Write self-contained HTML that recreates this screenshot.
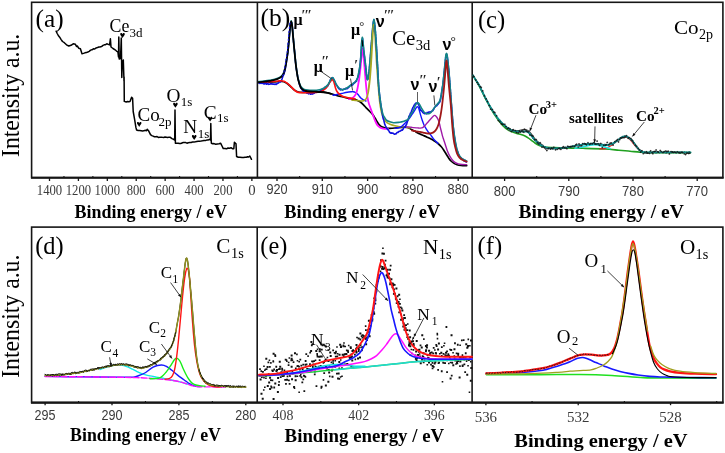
<!DOCTYPE html><html><head><meta charset="utf-8"><style>html,body{margin:0;padding:0;background:#fff}svg{display:block;will-change:transform}</style></head><body><svg width="725" height="453" viewBox="0 0 725 453"><rect x="31.6" y="2.3" width="691.3" height="175.29999999999998" fill="none" stroke="#161616" stroke-width="1.6"/>
<line x1="257.4" y1="2.3" x2="257.4" y2="177.6" stroke="#161616" stroke-width="1.6"/>
<line x1="472.2" y1="2.3" x2="472.2" y2="177.6" stroke="#161616" stroke-width="1.6"/>
<rect x="31.6" y="227.1" width="691.3" height="175.50000000000003" fill="none" stroke="#161616" stroke-width="1.6"/>
<line x1="257.2" y1="227.1" x2="257.2" y2="402.6" stroke="#161616" stroke-width="1.6"/>
<line x1="472.1" y1="227.1" x2="472.1" y2="402.6" stroke="#161616" stroke-width="1.6"/>
<line x1="31" y1="177.79999999999998" x2="723.6" y2="177.79999999999998" stroke="#161616" stroke-width="1.9"/>
<line x1="31" y1="402.70000000000005" x2="723.6" y2="402.70000000000005" stroke="#161616" stroke-width="2.2"/>
<line x1="49.50" y1="177.6" x2="49.50" y2="181.0" stroke="#161616" stroke-width="1.3"/>
<line x1="78.41" y1="177.6" x2="78.41" y2="181.0" stroke="#161616" stroke-width="1.3"/>
<line x1="107.32" y1="177.6" x2="107.32" y2="181.0" stroke="#161616" stroke-width="1.3"/>
<line x1="136.23" y1="177.6" x2="136.23" y2="181.0" stroke="#161616" stroke-width="1.3"/>
<line x1="165.14" y1="177.6" x2="165.14" y2="181.0" stroke="#161616" stroke-width="1.3"/>
<line x1="194.05" y1="177.6" x2="194.05" y2="181.0" stroke="#161616" stroke-width="1.3"/>
<line x1="222.96" y1="177.6" x2="222.96" y2="181.0" stroke="#161616" stroke-width="1.3"/>
<line x1="251.87" y1="177.6" x2="251.87" y2="181.0" stroke="#161616" stroke-width="1.3"/>
<line x1="63.95" y1="177.6" x2="63.95" y2="176.0" stroke="#161616" stroke-width="1.1"/>
<line x1="92.87" y1="177.6" x2="92.87" y2="176.0" stroke="#161616" stroke-width="1.1"/>
<line x1="121.78" y1="177.6" x2="121.78" y2="176.0" stroke="#161616" stroke-width="1.1"/>
<line x1="150.69" y1="177.6" x2="150.69" y2="176.0" stroke="#161616" stroke-width="1.1"/>
<line x1="179.59" y1="177.6" x2="179.59" y2="176.0" stroke="#161616" stroke-width="1.1"/>
<line x1="208.51" y1="177.6" x2="208.51" y2="176.0" stroke="#161616" stroke-width="1.1"/>
<line x1="237.42" y1="177.6" x2="237.42" y2="176.0" stroke="#161616" stroke-width="1.1"/>
<text x="49.5" y="194.9" font-family="Liberation Serif" font-size="14.8" fill="#3a3a3a" text-anchor="middle" textLength="25.4" lengthAdjust="spacingAndGlyphs">1400</text>
<text x="78.4" y="194.9" font-family="Liberation Serif" font-size="14.8" fill="#3a3a3a" text-anchor="middle" textLength="25.4" lengthAdjust="spacingAndGlyphs">1200</text>
<text x="107.3" y="194.9" font-family="Liberation Serif" font-size="14.8" fill="#3a3a3a" text-anchor="middle" textLength="25.4" lengthAdjust="spacingAndGlyphs">1000</text>
<text x="136.2" y="194.9" font-family="Liberation Serif" font-size="14.8" fill="#3a3a3a" text-anchor="middle" textLength="19.0" lengthAdjust="spacingAndGlyphs">800</text>
<text x="165.1" y="194.9" font-family="Liberation Serif" font-size="14.8" fill="#3a3a3a" text-anchor="middle" textLength="19.0" lengthAdjust="spacingAndGlyphs">600</text>
<text x="194.1" y="194.9" font-family="Liberation Serif" font-size="14.8" fill="#3a3a3a" text-anchor="middle" textLength="19.0" lengthAdjust="spacingAndGlyphs">400</text>
<text x="223.0" y="194.9" font-family="Liberation Serif" font-size="14.8" fill="#3a3a3a" text-anchor="middle" textLength="19.0" lengthAdjust="spacingAndGlyphs">200</text>
<text x="251.9" y="194.9" font-family="Liberation Serif" font-size="14.8" fill="#3a3a3a" text-anchor="middle" >0</text>
<line x1="277.00" y1="177.6" x2="277.00" y2="181.0" stroke="#161616" stroke-width="1.3"/>
<line x1="322.30" y1="177.6" x2="322.30" y2="181.0" stroke="#161616" stroke-width="1.3"/>
<line x1="367.60" y1="177.6" x2="367.60" y2="181.0" stroke="#161616" stroke-width="1.3"/>
<line x1="412.90" y1="177.6" x2="412.90" y2="181.0" stroke="#161616" stroke-width="1.3"/>
<line x1="458.20" y1="177.6" x2="458.20" y2="181.0" stroke="#161616" stroke-width="1.3"/>
<line x1="299.65" y1="177.6" x2="299.65" y2="176.0" stroke="#161616" stroke-width="1.1"/>
<line x1="344.95" y1="177.6" x2="344.95" y2="176.0" stroke="#161616" stroke-width="1.1"/>
<line x1="390.25" y1="177.6" x2="390.25" y2="176.0" stroke="#161616" stroke-width="1.1"/>
<line x1="435.55" y1="177.6" x2="435.55" y2="176.0" stroke="#161616" stroke-width="1.1"/>
<text x="277.0" y="194.1" font-family="Liberation Sans" font-size="15.0" fill="#3a3a3a" text-anchor="middle" textLength="21.2" lengthAdjust="spacingAndGlyphs">920</text>
<text x="322.3" y="194.1" font-family="Liberation Sans" font-size="15.0" fill="#3a3a3a" text-anchor="middle" textLength="21.2" lengthAdjust="spacingAndGlyphs">910</text>
<text x="367.6" y="194.1" font-family="Liberation Sans" font-size="15.0" fill="#3a3a3a" text-anchor="middle" textLength="21.2" lengthAdjust="spacingAndGlyphs">900</text>
<text x="412.9" y="194.1" font-family="Liberation Sans" font-size="15.0" fill="#3a3a3a" text-anchor="middle" textLength="21.2" lengthAdjust="spacingAndGlyphs">890</text>
<text x="458.2" y="194.1" font-family="Liberation Sans" font-size="15.0" fill="#3a3a3a" text-anchor="middle" textLength="21.2" lengthAdjust="spacingAndGlyphs">880</text>
<line x1="504.60" y1="177.6" x2="504.60" y2="181.0" stroke="#161616" stroke-width="1.3"/>
<line x1="568.80" y1="177.6" x2="568.80" y2="181.0" stroke="#161616" stroke-width="1.3"/>
<line x1="633.00" y1="177.6" x2="633.00" y2="181.0" stroke="#161616" stroke-width="1.3"/>
<line x1="697.20" y1="177.6" x2="697.20" y2="181.0" stroke="#161616" stroke-width="1.3"/>
<line x1="536.70" y1="177.6" x2="536.70" y2="176.0" stroke="#161616" stroke-width="1.1"/>
<line x1="600.90" y1="177.6" x2="600.90" y2="176.0" stroke="#161616" stroke-width="1.1"/>
<line x1="665.10" y1="177.6" x2="665.10" y2="176.0" stroke="#161616" stroke-width="1.1"/>
<text x="504.6" y="196.2" font-family="Liberation Sans" font-size="15.0" fill="#3a3a3a" text-anchor="middle" textLength="21.8" lengthAdjust="spacingAndGlyphs">800</text>
<text x="568.8" y="196.2" font-family="Liberation Sans" font-size="15.0" fill="#3a3a3a" text-anchor="middle" textLength="21.8" lengthAdjust="spacingAndGlyphs">790</text>
<text x="633.0" y="196.2" font-family="Liberation Sans" font-size="15.0" fill="#3a3a3a" text-anchor="middle" textLength="21.8" lengthAdjust="spacingAndGlyphs">780</text>
<text x="697.2" y="196.2" font-family="Liberation Sans" font-size="15.0" fill="#3a3a3a" text-anchor="middle" textLength="21.8" lengthAdjust="spacingAndGlyphs">770</text>
<line x1="45.10" y1="402.6" x2="45.10" y2="405.20000000000005" stroke="#161616" stroke-width="1.3"/>
<line x1="112.00" y1="402.6" x2="112.00" y2="405.20000000000005" stroke="#161616" stroke-width="1.3"/>
<line x1="178.90" y1="402.6" x2="178.90" y2="405.20000000000005" stroke="#161616" stroke-width="1.3"/>
<line x1="245.80" y1="402.6" x2="245.80" y2="405.20000000000005" stroke="#161616" stroke-width="1.3"/>
<line x1="78.55" y1="402.6" x2="78.55" y2="401.0" stroke="#161616" stroke-width="1.1"/>
<line x1="145.45" y1="402.6" x2="145.45" y2="401.0" stroke="#161616" stroke-width="1.1"/>
<line x1="212.35" y1="402.6" x2="212.35" y2="401.0" stroke="#161616" stroke-width="1.1"/>
<text x="45.1" y="419.6" font-family="Liberation Sans" font-size="14.6" fill="#3a3a3a" text-anchor="middle" textLength="21.0" lengthAdjust="spacingAndGlyphs">295</text>
<text x="112.0" y="419.6" font-family="Liberation Sans" font-size="14.6" fill="#3a3a3a" text-anchor="middle" textLength="21.0" lengthAdjust="spacingAndGlyphs">290</text>
<text x="178.9" y="419.6" font-family="Liberation Sans" font-size="14.6" fill="#3a3a3a" text-anchor="middle" textLength="21.0" lengthAdjust="spacingAndGlyphs">285</text>
<text x="245.8" y="419.6" font-family="Liberation Sans" font-size="14.6" fill="#3a3a3a" text-anchor="middle" textLength="21.0" lengthAdjust="spacingAndGlyphs">280</text>
<line x1="283.00" y1="402.6" x2="283.00" y2="405.20000000000005" stroke="#161616" stroke-width="1.3"/>
<line x1="358.66" y1="402.6" x2="358.66" y2="405.20000000000005" stroke="#161616" stroke-width="1.3"/>
<line x1="434.32" y1="402.6" x2="434.32" y2="405.20000000000005" stroke="#161616" stroke-width="1.3"/>
<line x1="320.83" y1="402.6" x2="320.83" y2="401.0" stroke="#161616" stroke-width="1.1"/>
<line x1="396.49" y1="402.6" x2="396.49" y2="401.0" stroke="#161616" stroke-width="1.1"/>
<text x="283.0" y="419.5" font-family="Liberation Serif" font-size="14.6" fill="#3a3a3a" text-anchor="middle" textLength="20.8" lengthAdjust="spacingAndGlyphs">408</text>
<text x="358.7" y="419.5" font-family="Liberation Serif" font-size="14.6" fill="#3a3a3a" text-anchor="middle" textLength="20.8" lengthAdjust="spacingAndGlyphs">402</text>
<text x="434.3" y="419.5" font-family="Liberation Serif" font-size="14.6" fill="#3a3a3a" text-anchor="middle" textLength="20.8" lengthAdjust="spacingAndGlyphs">396</text>
<line x1="485.90" y1="402.6" x2="485.90" y2="405.20000000000005" stroke="#161616" stroke-width="1.3"/>
<line x1="578.22" y1="402.6" x2="578.22" y2="405.20000000000005" stroke="#161616" stroke-width="1.3"/>
<line x1="670.54" y1="402.6" x2="670.54" y2="405.20000000000005" stroke="#161616" stroke-width="1.3"/>
<line x1="532.06" y1="402.6" x2="532.06" y2="401.0" stroke="#161616" stroke-width="1.1"/>
<line x1="624.38" y1="402.6" x2="624.38" y2="401.0" stroke="#161616" stroke-width="1.1"/>
<line x1="716.70" y1="402.6" x2="716.70" y2="401.0" stroke="#161616" stroke-width="1.1"/>
<text x="485.9" y="421.6" font-family="Liberation Serif" font-size="15.2" fill="#3a3a3a" text-anchor="middle" textLength="22.4" lengthAdjust="spacingAndGlyphs">536</text>
<text x="578.2" y="421.6" font-family="Liberation Serif" font-size="15.2" fill="#3a3a3a" text-anchor="middle" textLength="22.4" lengthAdjust="spacingAndGlyphs">532</text>
<text x="670.5" y="421.6" font-family="Liberation Serif" font-size="15.2" fill="#3a3a3a" text-anchor="middle" textLength="22.4" lengthAdjust="spacingAndGlyphs">528</text>
<text x="74.6" y="217.8" font-family="Liberation Serif" font-weight="bold" font-size="18.0" textLength="152.4" lengthAdjust="spacingAndGlyphs" fill="#000">Binding energy / eV</text>
<text x="284.3" y="217.8" font-family="Liberation Serif" font-weight="bold" font-size="18.0" textLength="155.8" lengthAdjust="spacingAndGlyphs" fill="#000">Binding energy / eV</text>
<text x="518.4" y="218.2" font-family="Liberation Serif" font-weight="bold" font-size="18.8" textLength="165.4" lengthAdjust="spacingAndGlyphs" fill="#000">Binding energy / eV</text>
<text x="70.1" y="441.2" font-family="Liberation Serif" font-weight="bold" font-size="17.9" textLength="150.9" lengthAdjust="spacingAndGlyphs" fill="#000">Binding energy / eV</text>
<text x="284.6" y="442.3" font-family="Liberation Serif" font-weight="bold" font-size="18.4" textLength="159.5" lengthAdjust="spacingAndGlyphs" fill="#000">Binding energy / eV</text>
<text x="514.3" y="446.5" font-family="Liberation Serif" font-weight="bold" font-size="19.3" textLength="173.3" lengthAdjust="spacingAndGlyphs" fill="#000">Binding energy / eV</text>
<text x="0" y="0" transform="translate(19.2,95.4) rotate(-90)" font-family="Liberation Serif" font-size="25.0" text-anchor="middle" textLength="123.2" lengthAdjust="spacingAndGlyphs" fill="#000">Intensity a.u.</text>
<text x="0" y="0" transform="translate(19.2,316.2) rotate(-90)" font-family="Liberation Serif" font-size="25.0" text-anchor="middle" textLength="123.2" lengthAdjust="spacingAndGlyphs" fill="#000">Intensity a.u.</text>
<text x="35.6" y="26.5" font-family="Liberation Serif" font-size="25.3" fill="#000" text-anchor="start" >(a)</text>
<text x="260.4" y="25.8" font-family="Liberation Serif" font-size="25.5" fill="#000" text-anchor="start" >(b)</text>
<text x="477.9" y="27.7" font-family="Liberation Serif" font-size="24.6" fill="#000" text-anchor="start" >(c)</text>
<text x="35.2" y="253.6" font-family="Liberation Serif" font-size="24.4" fill="#000" text-anchor="start" >(d)</text>
<text x="260.3" y="253.6" font-family="Liberation Serif" font-size="24.3" fill="#000" text-anchor="start" >(e)</text>
<text x="477.5" y="253.5" font-family="Liberation Serif" font-size="24.6" fill="#000" text-anchor="start" >(f)</text>
<path d="M56.10,31.10 L57.20,33.50 L58.30,35.50 L59.65,37.16 L61.00,39.30 L62.50,41.50 L64.30,42.70 L66.50,44.80 L68.80,46.00 L71.00,45.30 L73.20,43.80 L75.40,44.30 L76.50,46.50 L77.30,46.00 L78.70,48.20 L80.40,48.70 L82.00,53.70 L83.47,53.37 L84.93,52.85 L86.40,52.60 L87.80,51.99 L89.20,51.31 L90.60,50.11 L92.00,49.80 L93.38,48.81 L94.75,49.00 L96.12,47.93 L97.50,47.60 L98.75,47.01 L100.00,46.90 L101.50,46.60 L103.00,45.40 L104.27,44.84 L105.53,44.64 L106.80,43.80 L108.20,44.33 L109.60,44.90 L110.40,38.80 L111.00,47.00 L113.00,48.50 L115.10,49.80 L116.50,51.03 L117.90,52.00 L118.50,57.00 L118.80,37.00 L119.20,59.00 L120.50,58.50 L121.30,38.00 L121.80,77.60 L122.30,62.00 L123.30,60.00 L124.00,81.00 L124.10,77.00 L124.30,101.40 L126.20,102.00 L127.47,101.55 L128.73,101.85 L130.00,101.60 L131.60,97.20 L132.60,98.20 L133.20,111.50 L134.60,119.40 L135.90,127.40 L136.60,130.00 L138.13,130.56 L139.67,130.49 L141.20,130.70 L142.52,130.92 L143.85,130.85 L145.18,130.31 L146.50,130.70 L147.20,129.20 L148.50,130.70 L150.50,134.70 L151.80,135.60 L153.10,136.12 L154.40,136.70 L155.72,136.67 L157.05,136.58 L158.38,137.48 L159.70,137.30 L161.02,137.20 L162.35,137.35 L163.68,137.42 L165.00,137.00 L166.32,137.27 L167.65,137.53 L168.98,137.13 L170.30,137.30 L171.95,138.57 L173.60,139.30 L174.70,140.00 L175.00,110.00 L175.40,143.30 L177.00,143.30 L178.25,143.18 L179.50,143.54 L180.75,143.42 L182.00,143.00 L183.24,142.58 L184.48,142.55 L185.72,142.57 L186.96,143.18 L188.20,142.70 L189.65,142.47 L191.10,142.46 L192.55,142.00 L194.00,142.00 L195.38,141.83 L196.75,141.55 L198.12,141.34 L199.50,141.30 L201.00,141.11 L202.50,140.84 L204.00,140.50 L205.35,140.59 L206.70,140.11 L208.05,140.06 L209.40,139.40 L210.50,140.00 L210.80,123.50 L211.20,140.50 L211.40,143.30 L212.70,143.77 L214.00,143.60 L215.70,144.24 L217.40,144.00 L219.05,143.80 L220.70,143.30 L222.00,146.00 L223.30,148.60 L224.95,148.40 L226.60,148.80 L228.00,148.00 L229.50,148.17 L231.00,147.70 L232.40,148.67 L233.80,148.80 L234.40,142.20 L236.00,143.80 L236.60,156.50 L238.30,157.26 L240.00,157.30 L242.10,157.60 L243.55,157.46 L245.00,157.20 L246.23,157.33 L247.47,156.81 L248.70,157.00 L249.80,156.00 L251.50,159.30" fill="none" stroke="#000" stroke-width="1.5" stroke-linejoin="round" stroke-linecap="round" />
<text x="109.6" y="31.7" font-family="Liberation Serif" font-size="19.3" fill="#000" text-anchor="start" textLength="19.8" lengthAdjust="spacingAndGlyphs">Ce</text>
<text x="129.6" y="36.6" font-family="Liberation Serif" font-size="13.0" fill="#000" text-anchor="start" >3d</text>
<text x="137.5" y="121.4" font-family="Liberation Serif" font-size="19.0" fill="#000" text-anchor="start" >Co</text>
<text x="158.6" y="126.0" font-family="Liberation Serif" font-size="13.0" fill="#000" text-anchor="start" >2p</text>
<text x="166.6" y="101.7" font-family="Liberation Serif" font-size="19.3" fill="#000" text-anchor="start" >O</text>
<text x="180.8" y="105.6" font-family="Liberation Serif" font-size="13.0" fill="#000" text-anchor="start" >1s</text>
<text x="183.3" y="132.7" font-family="Liberation Serif" font-size="19.3" fill="#000" text-anchor="start" >N</text>
<text x="197.8" y="137.8" font-family="Liberation Serif" font-size="13.0" fill="#000" text-anchor="start" >1s</text>
<text x="203.7" y="118.8" font-family="Liberation Serif" font-size="19.3" fill="#000" text-anchor="start" >C</text>
<text x="216.9" y="122.0" font-family="Liberation Serif" font-size="13.0" fill="#000" text-anchor="start" >1s</text>
<path d="M120.20,34.20 C120.20,32.70 122.10,32.70 122.50,34.30 C122.90,32.70 124.80,32.70 124.80,34.20 C124.80,35.30 123.20,36.50 122.50,38.00 C121.80,36.50 120.20,35.30 120.20,34.20 Z" fill="#000"/>
<path d="M136.90,123.10 C136.90,121.60 138.80,121.60 139.20,123.20 C139.60,121.60 141.50,121.60 141.50,123.10 C141.50,124.20 139.90,125.40 139.20,126.90 C138.50,125.40 136.90,124.20 136.90,123.10 Z" fill="#000"/>
<path d="M173.10,103.90 C173.10,102.40 175.00,102.40 175.40,104.00 C175.80,102.40 177.70,102.40 177.70,103.90 C177.70,105.00 176.10,106.20 175.40,107.70 C174.70,106.20 173.10,105.00 173.10,103.90 Z" fill="#000"/>
<path d="M191.90,136.20 C191.90,134.70 193.80,134.70 194.20,136.30 C194.60,134.70 196.50,134.70 196.50,136.20 C196.50,137.30 194.90,138.50 194.20,140.00 C193.50,138.50 191.90,137.30 191.90,136.20 Z" fill="#000"/>
<path d="M207.80,117.80 C207.80,116.30 209.70,116.30 210.10,117.90 C210.50,116.30 212.40,116.30 212.40,117.80 C212.40,118.90 210.80,120.10 210.10,121.60 C209.40,120.10 207.80,118.90 207.80,117.80 Z" fill="#000"/>
<path d="M258.70,82.80 C259.75,82.72 262.52,82.43 265.00,82.30 C267.48,82.17 270.80,82.13 273.60,82.00 C276.40,81.87 279.73,81.37 281.80,81.50 C283.87,81.63 284.62,82.05 286.00,82.80 C287.38,83.55 288.72,84.80 290.10,86.00 C291.48,87.20 292.92,89.00 294.30,90.00 C295.68,91.00 296.88,91.62 298.40,92.00 C299.92,92.38 301.47,92.33 303.40,92.30 C305.33,92.27 307.90,91.92 310.00,91.80 C312.10,91.68 314.23,91.60 316.00,91.60 C317.77,91.60 318.93,91.65 320.60,91.80 C322.27,91.95 324.23,92.18 326.00,92.50 C327.77,92.82 329.43,93.20 331.20,93.70 C332.97,94.20 334.60,94.95 336.60,95.50 C338.60,96.05 340.77,96.43 343.20,97.00 C345.63,97.57 349.07,98.42 351.20,98.90 C353.33,99.38 354.53,99.42 356.00,99.90 C357.47,100.38 358.75,100.98 360.00,101.80 C361.25,102.62 362.47,103.78 363.50,104.80 C364.53,105.82 365.23,106.87 366.20,107.90 C367.17,108.93 368.27,109.97 369.30,111.00 C370.33,112.03 371.45,112.93 372.40,114.10 C373.35,115.27 374.23,116.77 375.00,118.00 C375.77,119.23 376.33,120.42 377.00,121.50 C377.67,122.58 378.23,123.62 379.00,124.50 C379.77,125.38 380.50,126.22 381.60,126.80 C382.70,127.38 384.20,127.75 385.60,128.00 C387.00,128.25 388.43,128.30 390.00,128.30 C391.57,128.30 393.08,128.17 395.00,128.00 C396.92,127.83 399.83,127.43 401.50,127.30 C403.17,127.17 404.03,127.17 405.00,127.20 C405.97,127.23 406.57,127.32 407.30,127.50 C408.03,127.68 408.62,127.92 409.40,128.30 C410.18,128.68 411.13,129.33 412.00,129.80 C412.87,130.27 413.70,130.60 414.60,131.10 C415.50,131.60 416.50,132.30 417.40,132.80 C418.30,133.30 418.85,133.58 420.00,134.10 C421.15,134.62 422.97,135.32 424.30,135.90 C425.63,136.48 426.88,137.08 428.00,137.60 C429.12,138.12 430.00,138.48 431.00,139.00 C432.00,139.52 432.92,140.03 434.00,140.70 C435.08,141.37 436.28,141.98 437.50,143.00 C438.72,144.02 440.25,145.60 441.30,146.80 C442.35,148.00 443.00,149.00 443.80,150.20 C444.60,151.40 445.32,152.73 446.10,154.00 C446.88,155.27 447.68,156.63 448.50,157.80 C449.32,158.97 450.08,160.07 451.00,161.00 C451.92,161.93 453.00,162.78 454.00,163.40 C455.00,164.02 455.83,164.37 457.00,164.70 C458.17,165.03 459.38,165.23 461.00,165.40 C462.62,165.57 465.75,165.65 466.70,165.70" fill="none" stroke="#000" stroke-width="1.7" stroke-linejoin="round" stroke-linecap="round" />
<path d="M333.00,95.20 C333.50,95.12 335.17,94.85 336.00,94.70 C336.83,94.55 337.00,94.52 338.00,94.30 C339.00,94.08 340.47,93.73 342.00,93.40 C343.53,93.07 345.70,92.57 347.20,92.30 C348.70,92.03 350.00,91.90 351.00,91.80 C352.00,91.70 352.45,91.58 353.20,91.70 C353.95,91.82 354.73,92.07 355.50,92.50 C356.27,92.93 357.13,93.63 357.80,94.30 C358.47,94.97 358.95,95.83 359.50,96.50 C360.05,97.17 360.52,97.78 361.10,98.30 C361.68,98.82 362.18,99.15 363.00,99.60 C363.82,100.05 365.50,100.77 366.00,101.00" fill="none" stroke="#1414ff" stroke-width="1.4" stroke-linejoin="round" stroke-linecap="round" />
<path d="M349.00,99.20 C349.37,99.10 350.45,98.93 351.20,98.60 C351.95,98.27 352.82,97.80 353.50,97.20 C354.18,96.60 354.80,95.78 355.30,95.00 C355.80,94.22 356.12,93.67 356.50,92.50 C356.88,91.33 357.28,89.50 357.60,88.00 C357.92,86.50 358.15,84.92 358.40,83.50 C358.65,82.08 358.87,81.08 359.10,79.50 C359.33,77.92 359.57,76.00 359.80,74.00 C360.03,72.00 360.28,69.58 360.50,67.50 C360.72,65.42 360.90,63.67 361.10,61.50 C361.30,59.33 361.52,56.50 361.70,54.50 C361.88,52.50 362.05,50.45 362.20,49.50 C362.35,48.55 362.47,48.63 362.60,48.80 C362.73,48.97 362.85,49.38 363.00,50.50 C363.15,51.62 363.32,53.58 363.50,55.50 C363.68,57.42 363.88,59.50 364.10,62.00 C364.32,64.50 364.57,67.67 364.80,70.50 C365.03,73.33 365.27,76.33 365.50,79.00 C365.73,81.67 365.97,84.17 366.20,86.50 C366.43,88.83 366.63,90.92 366.90,93.00 C367.17,95.08 367.48,97.30 367.80,99.00 C368.12,100.70 368.43,101.90 368.80,103.20 C369.17,104.50 369.40,105.08 370.00,106.80 C370.60,108.52 371.57,111.22 372.40,113.50 C373.23,115.78 374.23,118.65 375.00,120.50 C375.77,122.35 376.17,123.45 377.00,124.60 C377.83,125.75 378.97,126.73 380.00,127.40 C381.03,128.07 381.87,128.33 383.20,128.60 C384.53,128.87 387.20,128.93 388.00,129.00" fill="none" stroke="#ff10ff" stroke-width="1.8" stroke-linejoin="round" stroke-linecap="round" />
<path d="M352.00,100.20 C352.83,100.27 355.58,100.47 357.00,100.60 C358.42,100.73 359.48,100.93 360.50,101.00 C361.52,101.07 362.35,101.20 363.10,101.00 C363.85,100.80 364.48,100.20 365.00,99.80 C365.52,99.40 365.78,99.32 366.20,98.60 C366.62,97.88 367.12,96.77 367.50,95.50 C367.88,94.23 368.17,92.92 368.50,91.00 C368.83,89.08 369.18,86.67 369.50,84.00 C369.82,81.33 370.12,78.33 370.40,75.00 C370.68,71.67 370.93,68.17 371.20,64.00 C371.47,59.83 371.75,54.33 372.00,50.00 C372.25,45.67 372.48,41.50 372.70,38.00 C372.92,34.50 373.10,31.23 373.30,29.00 C373.50,26.77 373.70,24.60 373.90,24.60 C374.10,24.60 374.30,26.77 374.50,29.00 C374.70,31.23 374.88,34.50 375.10,38.00 C375.32,41.50 375.55,45.67 375.80,50.00 C376.05,54.33 376.33,59.83 376.60,64.00 C376.87,68.17 377.12,71.17 377.40,75.00 C377.68,78.83 377.98,83.07 378.30,87.00 C378.62,90.93 378.97,95.35 379.30,98.60 C379.63,101.85 379.93,104.18 380.30,106.50 C380.67,108.82 381.02,110.68 381.50,112.50 C381.98,114.32 382.62,116.07 383.20,117.40 C383.78,118.73 384.38,119.63 385.00,120.50 C385.62,121.37 386.07,121.98 386.90,122.60 C387.73,123.22 388.67,123.67 390.00,124.20 C391.33,124.73 393.47,125.43 394.90,125.80 C396.33,126.17 396.83,126.17 398.60,126.40 C400.37,126.63 403.60,126.93 405.50,127.20 C407.40,127.47 409.25,127.87 410.00,128.00" fill="none" stroke="#a8a820" stroke-width="1.5" stroke-linejoin="round" stroke-linecap="round" />
<path d="M395.00,128.20 C395.50,128.13 396.92,128.08 398.00,127.80 C399.08,127.52 400.33,127.27 401.50,126.50 C402.67,125.73 404.00,124.20 405.00,123.20 C406.00,122.20 406.77,121.32 407.50,120.50 C408.23,119.68 408.65,119.32 409.40,118.30 C410.15,117.28 411.12,115.72 412.00,114.40 C412.88,113.08 413.98,111.53 414.70,110.40 C415.42,109.27 415.85,108.23 416.30,107.60 C416.75,106.97 417.03,106.57 417.40,106.60 C417.77,106.63 418.15,107.07 418.50,107.80 C418.85,108.53 419.13,109.73 419.50,111.00 C419.87,112.27 420.23,113.82 420.70,115.40 C421.17,116.98 421.75,118.90 422.30,120.50 C422.85,122.10 423.38,123.65 424.00,125.00 C424.62,126.35 425.33,127.50 426.00,128.60 C426.67,129.70 427.25,130.58 428.00,131.60 C428.75,132.62 429.62,133.53 430.50,134.70 C431.38,135.87 432.47,137.55 433.30,138.60 C434.13,139.65 434.72,140.18 435.50,141.00 C436.28,141.82 437.58,143.08 438.00,143.50" fill="none" stroke="#1414ff" stroke-width="1.4" stroke-linejoin="round" stroke-linecap="round" />
<path d="M405.00,127.40 C405.52,127.32 407.10,126.93 408.10,126.90 C409.10,126.87 410.10,127.08 411.00,127.20 C411.90,127.32 412.43,127.48 413.50,127.60 C414.57,127.72 416.32,127.82 417.40,127.90 C418.48,127.98 419.12,128.15 420.00,128.10 C420.88,128.05 421.87,128.02 422.70,127.60 C423.53,127.18 424.35,126.27 425.00,125.60 C425.65,124.93 426.05,124.25 426.60,123.60 C427.15,122.95 427.73,122.33 428.30,121.70 C428.87,121.07 429.45,120.42 430.00,119.80 C430.55,119.18 431.07,118.60 431.60,118.00 C432.13,117.40 432.68,116.63 433.20,116.20 C433.72,115.77 434.20,115.37 434.70,115.40 C435.20,115.43 435.73,115.92 436.20,116.40 C436.67,116.88 437.10,117.57 437.50,118.30 C437.90,119.03 438.25,119.82 438.60,120.80 C438.95,121.78 439.28,122.97 439.60,124.20 C439.92,125.43 440.18,126.90 440.50,128.20 C440.82,129.50 441.15,130.63 441.50,132.00 C441.85,133.37 442.23,135.10 442.60,136.40 C442.97,137.70 443.27,138.50 443.70,139.80 C444.13,141.10 444.60,142.37 445.20,144.20 C445.80,146.03 446.58,148.90 447.30,150.80 C448.02,152.70 448.68,154.10 449.50,155.60 C450.32,157.10 451.28,158.67 452.20,159.80 C453.12,160.93 453.98,161.72 455.00,162.40 C456.02,163.08 457.13,163.55 458.30,163.90 C459.47,164.25 460.60,164.38 462.00,164.50 C463.40,164.62 465.92,164.58 466.70,164.60" fill="none" stroke="#a01aa8" stroke-width="1.4" stroke-linejoin="round" stroke-linecap="round" />
<path d="M258.70,82.53 L259.30,82.81 L259.90,83.45 L260.50,82.94 L261.10,83.13 L261.70,83.36 L262.30,82.92 L262.90,83.51 L263.50,83.80 L264.10,84.15 L264.70,83.27 L265.30,83.62 L265.90,83.31 L266.50,84.24 L267.10,83.96 L267.70,82.97 L268.30,84.29 L268.90,84.36 L269.50,84.07 L270.10,84.14 L270.70,83.62 L271.30,83.55 L271.90,84.40 L272.50,83.86 L273.10,84.13 L273.70,84.24 L274.30,83.88 L274.90,84.35 L275.50,84.11 L276.10,84.44 L276.70,83.75 L277.30,83.66 L277.90,83.16 L278.50,83.03 L279.10,82.29 L279.70,81.52 L280.30,81.92 L280.90,81.21 L281.50,80.10 L282.10,78.81 L282.70,76.93 L283.30,75.51 L283.90,74.37 L284.50,72.12 L285.10,70.18 L285.70,66.13 L286.30,62.81 L286.90,58.03 L287.50,54.79 L288.10,49.99 L288.70,42.56 L289.30,36.09 L289.90,30.07 L290.50,24.00 L291.10,22.24 L291.70,22.64 L292.30,26.62 L292.90,34.32 L293.50,41.15 L294.10,46.91 L294.70,52.95 L295.30,59.36 L295.90,65.62 L296.50,69.88 L297.10,73.11 L297.70,76.90 L298.30,79.41 L298.90,81.65 L299.50,84.76 L300.10,85.76 L300.70,87.75 L301.30,88.49 L301.90,88.91 L302.50,90.47 L303.10,90.24 L303.70,91.40 L304.30,91.00 L304.90,91.71 L305.50,91.68 L306.10,92.02 L306.70,93.27 L307.30,93.28 L307.90,92.81 L308.50,93.84 L309.10,93.10 L309.70,93.54 L310.30,94.33 L310.90,94.10 L311.50,93.33 L312.10,94.48 L312.70,93.27 L313.30,93.18 L313.90,93.70 L314.50,92.85 L315.10,92.58 L315.70,92.05 L316.30,91.87 L316.90,92.34 L317.50,91.64 L318.10,91.90 L318.70,91.33 L319.30,91.19 L319.90,91.62 L320.50,90.63 L321.10,90.41 L321.70,90.45 L322.30,89.11 L322.90,88.67 L323.50,89.32 L324.10,88.78 L324.70,87.58 L325.30,87.10 L325.90,87.46 L326.50,87.28 L327.10,85.68 L327.70,86.02 L328.30,85.03 L328.90,83.61 L329.50,82.29 L330.10,80.65 L330.70,79.27 L331.30,79.61 L331.90,77.88 L332.50,78.29 L333.10,78.12 L333.70,79.83 L334.30,80.63 L334.90,81.67 L335.50,82.88 L336.10,84.88 L336.70,84.94 L337.30,86.03 L337.90,87.29 L338.50,88.40 L339.10,88.65 L339.70,88.67 L340.30,89.98 L340.90,89.32 L341.50,89.32 L342.10,89.80 L342.70,90.01 L343.30,89.29 L343.90,89.20 L344.50,89.22 L345.10,89.26 L345.70,88.38 L346.30,88.40 L346.90,88.82 L347.50,88.59 L348.10,87.76 L348.70,87.42 L349.30,86.86 L349.90,85.82 L350.50,85.25 L351.10,84.80 L351.70,85.61 L352.30,84.87 L352.90,84.78 L353.50,82.98 L354.10,83.33 L354.70,82.60 L355.30,82.40 L355.90,81.18 L356.50,81.29 L357.10,78.90 L357.70,77.90 L358.30,75.62 L358.90,72.50 L359.50,69.17 L360.10,64.78 L360.70,58.48 L361.30,48.98 L361.90,39.68 L362.50,38.50 L363.10,43.81 L363.70,50.56 L364.30,54.89 L364.90,60.13 L365.50,65.25 L366.10,70.46 L366.70,76.47 L367.30,79.72 L367.90,79.12 L368.50,76.13 L369.10,71.61 L369.70,64.86 L370.30,58.20 L370.90,50.44 L371.50,43.08 L372.10,35.16 L372.70,28.49 L373.30,22.76 L373.90,19.72 L374.50,23.12 L375.10,27.50 L375.70,36.20 L376.30,44.49 L376.90,55.21 L377.50,65.37 L378.10,76.44 L378.70,86.55 L379.30,92.54 L379.90,97.75 L380.50,102.53 L381.10,106.27 L381.70,110.07 L382.30,113.69 L382.90,117.37 L383.50,119.40 L384.10,121.44 L384.70,124.21 L385.30,125.45 L385.90,126.51 L386.50,128.26 L387.10,128.44 L387.70,129.77 L388.30,129.90 L388.90,130.96 L389.50,132.12 L390.10,132.80 L390.70,133.15 L391.30,132.78 L391.90,133.31 L392.50,133.14 L393.10,133.03 L393.70,133.61 L394.30,134.12 L394.90,134.09 L395.50,133.80 L396.10,133.97 L396.70,132.81 L397.30,132.38 L397.90,132.45 L398.50,131.86 L399.10,131.40 L399.70,131.30 L400.30,131.21 L400.90,130.63 L401.50,129.96 L402.10,130.24 L402.70,129.94 L403.30,128.67 L403.90,127.60 L404.50,126.96 L405.10,127.42 L405.70,125.30 L406.30,124.95 L406.90,123.22 L407.50,121.23 L408.10,120.13 L408.70,117.16 L409.30,115.76 L409.90,114.88 L410.50,113.00 L411.10,112.77 L411.70,110.51 L412.30,108.96 L412.90,107.43 L413.50,106.84 L414.10,105.30 L414.70,104.49 L415.30,103.61 L415.90,103.16 L416.50,103.19 L417.10,103.15 L417.70,103.09 L418.30,104.40 L418.90,105.30 L419.50,106.95 L420.10,109.17 L420.70,110.54 L421.30,110.54 L421.90,111.28 L422.50,111.94 L423.10,112.91 L423.70,113.07 L424.30,113.46 L424.90,113.73 L425.50,113.14 L426.10,113.59 L426.70,113.60 L427.30,112.26 L427.90,113.24 L428.50,112.77 L429.10,111.77 L429.70,112.04 L430.30,112.06 L430.90,112.19 L431.50,111.13 L432.10,110.97 L432.70,110.80 L433.30,109.83 L433.90,109.08 L434.50,107.55 L435.10,107.13 L435.70,105.90 L436.30,106.02 L436.90,105.52 L437.50,104.65 L438.10,104.10 L438.70,102.64 L439.30,102.79 L439.90,101.67 L440.50,99.53 L441.10,96.03 L441.70,92.55 L442.30,88.24 L442.90,84.64 L443.50,79.28 L444.10,73.29 L444.70,66.95 L445.30,60.98 L445.90,55.65 L446.50,54.28 L447.10,55.57 L447.70,59.65 L448.30,65.93 L448.90,70.78 L449.50,79.02 L450.10,86.11 L450.70,94.61 L451.30,103.22 L451.90,110.62 L452.50,118.44 L453.10,125.55 L453.70,131.12 L454.30,135.68 L454.90,139.52 L455.50,143.56 L456.10,146.14 L456.70,149.49 L457.30,150.44 L457.90,152.43 L458.50,154.38 L459.10,155.29 L459.70,156.86 L460.30,157.46 L460.90,157.94 L461.50,158.96 L462.10,159.07 L462.70,159.19 L463.30,159.70 L463.90,160.72 L464.50,161.10 L465.10,160.41 L465.70,161.57 L466.30,161.98" fill="none" stroke="#1010e0" stroke-width="1.6" stroke-linejoin="round" stroke-linecap="round" stroke-dasharray="2.2 0.8"/>
<path d="M258.70,82.00 C259.25,81.98 260.95,81.93 262.00,81.90 C263.05,81.87 263.83,81.83 265.00,81.80 C266.17,81.77 267.57,81.75 269.00,81.70 C270.43,81.65 272.10,81.62 273.60,81.50 C275.10,81.38 276.63,81.13 278.00,81.00 C279.37,80.87 280.80,80.65 281.80,80.70 C282.80,80.75 283.30,81.02 284.00,81.30 C284.70,81.58 285.33,81.98 286.00,82.40 C286.67,82.82 287.32,83.25 288.00,83.80 C288.68,84.35 289.40,85.02 290.10,85.70 C290.80,86.38 291.50,87.20 292.20,87.90 C292.90,88.60 293.62,89.30 294.30,89.90 C294.98,90.50 295.62,91.08 296.30,91.50 C296.98,91.92 297.45,92.20 298.40,92.40 C299.35,92.60 300.62,92.63 302.00,92.70 C303.38,92.77 304.93,92.82 306.70,92.80 C308.47,92.78 311.22,92.67 312.60,92.60 C313.98,92.53 314.10,92.48 315.00,92.40 C315.90,92.32 317.07,92.25 318.00,92.10 C318.93,91.95 319.80,91.75 320.60,91.50 C321.40,91.25 322.10,90.98 322.80,90.60 C323.50,90.22 324.18,89.72 324.80,89.20 C325.42,88.68 325.93,88.20 326.50,87.50 C327.07,86.80 327.65,85.87 328.20,85.00 C328.75,84.13 329.28,83.08 329.80,82.30 C330.32,81.52 330.85,80.73 331.30,80.30 C331.75,79.87 332.12,79.55 332.50,79.70 C332.88,79.85 333.25,80.38 333.60,81.20 C333.95,82.02 334.27,83.43 334.60,84.60 C334.93,85.77 335.20,87.05 335.60,88.20 C336.00,89.35 336.38,90.50 337.00,91.50 C337.62,92.50 338.47,93.45 339.30,94.20 C340.13,94.95 341.12,95.53 342.00,96.00 C342.88,96.47 343.60,96.70 344.60,97.00 C345.60,97.30 346.90,97.58 348.00,97.80 C349.10,98.02 350.03,98.12 351.20,98.30 C352.37,98.48 354.37,98.80 355.00,98.90" fill="none" stroke="#ff1010" stroke-width="1.6" stroke-linejoin="round" stroke-linecap="round" />
<path d="M258.70,81.60 C259.58,81.50 262.22,81.22 264.00,81.00 C265.78,80.78 267.80,80.53 269.40,80.30 C271.00,80.07 272.22,79.93 273.60,79.60 C274.98,79.27 276.63,78.70 277.70,78.30 C278.77,77.90 279.32,77.62 280.00,77.20 C280.68,76.78 281.25,76.40 281.80,75.80 C282.35,75.20 282.88,74.43 283.30,73.60 C283.72,72.77 283.93,72.08 284.30,70.80 C284.67,69.52 285.05,68.20 285.50,65.90 C285.95,63.60 286.57,59.82 287.00,57.00 C287.43,54.18 287.72,52.50 288.10,49.00 C288.48,45.50 288.93,40.00 289.30,36.00 C289.67,32.00 289.98,27.53 290.30,25.00 C290.62,22.47 290.90,20.80 291.20,20.80 C291.50,20.80 291.78,22.47 292.10,25.00 C292.42,27.53 292.72,31.83 293.10,36.00 C293.48,40.17 293.98,45.67 294.40,50.00 C294.82,54.33 295.22,58.58 295.60,62.00 C295.98,65.42 296.30,67.78 296.70,70.50 C297.10,73.22 297.55,76.20 298.00,78.30 C298.45,80.40 298.92,81.75 299.40,83.10 C299.88,84.45 300.23,85.43 300.90,86.40 C301.57,87.37 302.55,88.33 303.40,88.90 C304.25,89.47 304.90,89.57 306.00,89.80 C307.10,90.03 308.50,90.22 310.00,90.30 C311.50,90.38 313.67,90.35 315.00,90.30 C316.33,90.25 317.07,90.15 318.00,90.00 C318.93,89.85 319.60,89.73 320.60,89.40 C321.60,89.07 322.90,88.63 324.00,88.00 C325.10,87.37 326.28,86.60 327.20,85.60 C328.12,84.60 328.87,83.10 329.50,82.00 C330.13,80.90 330.50,79.73 331.00,79.00 C331.50,78.27 332.00,77.52 332.50,77.60 C333.00,77.68 333.53,78.68 334.00,79.50 C334.47,80.32 334.87,81.58 335.30,82.50 C335.73,83.42 335.98,84.08 336.60,85.00 C337.22,85.92 338.12,87.22 339.00,88.00 C339.88,88.78 340.98,89.53 341.90,89.70 C342.82,89.87 343.62,89.33 344.50,89.00 C345.38,88.67 346.20,88.28 347.20,87.70 C348.20,87.12 349.40,86.28 350.50,85.50 C351.60,84.72 352.83,83.83 353.80,83.00 C354.77,82.17 355.63,81.48 356.30,80.50 C356.97,79.52 357.35,78.68 357.80,77.10 C358.25,75.52 358.67,72.77 359.00,71.00 C359.33,69.23 359.53,68.50 359.80,66.50 C360.07,64.50 360.35,62.08 360.60,59.00 C360.85,55.92 361.10,51.08 361.30,48.00 C361.50,44.92 361.63,42.28 361.80,40.50 C361.97,38.72 362.13,37.38 362.30,37.30 C362.47,37.22 362.63,38.72 362.80,40.00 C362.97,41.28 363.13,43.23 363.30,45.00 C363.47,46.77 363.55,48.35 363.80,50.60 C364.05,52.85 364.47,55.77 364.80,58.50 C365.13,61.23 365.50,64.25 365.80,67.00 C366.10,69.75 366.37,72.95 366.60,75.00 C366.83,77.05 366.98,78.70 367.20,79.30 C367.42,79.90 367.67,79.32 367.90,78.60 C368.13,77.88 368.40,76.13 368.60,75.00 C368.80,73.87 368.90,73.80 369.10,71.80 C369.30,69.80 369.58,65.65 369.80,63.00 C370.02,60.35 370.18,58.57 370.40,55.90 C370.62,53.23 370.88,49.65 371.10,47.00 C371.32,44.35 371.47,42.83 371.70,40.00 C371.93,37.17 372.25,32.83 372.50,30.00 C372.75,27.17 372.97,24.77 373.20,23.00 C373.43,21.23 373.67,19.40 373.90,19.40 C374.13,19.40 374.37,21.23 374.60,23.00 C374.83,24.77 375.07,27.17 375.30,30.00 C375.53,32.83 375.75,36.17 376.00,40.00 C376.25,43.83 376.55,48.83 376.80,53.00 C377.05,57.17 377.22,59.97 377.50,65.00 C377.78,70.03 378.17,78.37 378.50,83.20 C378.83,88.03 379.20,91.20 379.50,94.00 C379.80,96.80 380.00,97.75 380.30,100.00 C380.60,102.25 380.85,105.08 381.30,107.50 C381.75,109.92 382.43,112.82 383.00,114.50 C383.57,116.18 384.05,116.60 384.70,117.60 C385.35,118.60 385.87,119.77 386.90,120.50 C387.93,121.23 389.80,121.63 390.90,122.00 C392.00,122.37 392.22,122.63 393.50,122.70 C394.78,122.77 397.27,122.53 398.60,122.40 C399.93,122.27 400.60,122.08 401.50,121.90 C402.40,121.72 403.18,121.57 404.00,121.30 C404.82,121.03 405.72,120.65 406.40,120.30 C407.08,119.95 407.42,120.08 408.10,119.20 C408.78,118.32 409.62,116.48 410.50,115.00 C411.38,113.52 412.57,111.93 413.40,110.30 C414.23,108.67 414.83,106.48 415.50,105.20 C416.17,103.92 416.82,102.87 417.40,102.60 C417.98,102.33 418.52,103.07 419.00,103.60 C419.48,104.13 419.80,104.90 420.30,105.80 C420.80,106.70 421.38,107.97 422.00,109.00 C422.62,110.03 423.22,111.23 424.00,112.00 C424.78,112.77 425.78,113.37 426.70,113.60 C427.62,113.83 428.70,113.70 429.50,113.40 C430.30,113.10 430.77,112.63 431.50,111.80 C432.23,110.97 433.07,109.53 433.90,108.40 C434.73,107.27 435.73,105.93 436.50,105.00 C437.27,104.07 437.93,103.55 438.50,102.80 C439.07,102.05 439.48,101.63 439.90,100.50 C440.32,99.37 440.68,97.58 441.00,96.00 C441.32,94.42 441.53,92.67 441.80,91.00 C442.07,89.33 442.35,87.83 442.60,86.00 C442.85,84.17 443.05,82.17 443.30,80.00 C443.55,77.83 443.85,75.33 444.10,73.00 C444.35,70.67 444.57,68.42 444.80,66.00 C445.03,63.58 445.30,60.42 445.50,58.50 C445.70,56.58 445.83,55.35 446.00,54.50 C446.17,53.65 446.33,53.40 446.50,53.40 C446.67,53.40 446.82,53.57 447.00,54.50 C447.18,55.43 447.38,57.25 447.60,59.00 C447.82,60.75 448.07,62.83 448.30,65.00 C448.53,67.17 448.75,69.17 449.00,72.00 C449.25,74.83 449.53,78.50 449.80,82.00 C450.07,85.50 450.32,89.17 450.60,93.00 C450.88,96.83 451.22,101.17 451.50,105.00 C451.78,108.83 452.02,112.50 452.30,116.00 C452.58,119.50 452.88,123.00 453.20,126.00 C453.52,129.00 453.80,131.17 454.20,134.00 C454.60,136.83 455.13,140.42 455.60,143.00 C456.07,145.58 456.47,147.58 457.00,149.50 C457.53,151.42 458.18,153.22 458.80,154.50 C459.42,155.78 459.92,156.37 460.70,157.20 C461.48,158.03 462.50,158.87 463.50,159.50 C464.50,160.13 466.17,160.75 466.70,161.00" fill="none" stroke="#138585" stroke-width="1.6" stroke-linejoin="round" stroke-linecap="round" />
<path d="M258.70,82.20 C259.58,82.10 262.22,81.82 264.00,81.60 C265.78,81.38 267.80,81.13 269.40,80.90 C271.00,80.67 272.22,80.53 273.60,80.20 C274.98,79.87 276.63,79.30 277.70,78.90 C278.77,78.50 279.32,78.22 280.00,77.80 C280.68,77.38 281.25,77.00 281.80,76.40 C282.35,75.80 282.88,75.03 283.30,74.20 C283.72,73.37 283.93,72.68 284.30,71.40 C284.67,70.12 285.05,68.80 285.50,66.50 C285.95,64.20 286.57,60.42 287.00,57.60 C287.43,54.78 287.72,53.10 288.10,49.60 C288.48,46.10 288.93,40.60 289.30,36.60 C289.67,32.60 289.98,28.13 290.30,25.60 C290.62,23.07 290.90,21.40 291.20,21.40 C291.50,21.40 291.78,23.07 292.10,25.60 C292.42,28.13 292.72,32.43 293.10,36.60 C293.48,40.77 293.98,46.27 294.40,50.60 C294.82,54.93 295.22,59.18 295.60,62.60 C295.98,66.02 296.30,68.38 296.70,71.10 C297.10,73.82 297.55,76.80 298.00,78.90 C298.45,81.00 298.92,82.22 299.40,83.70 C299.88,85.18 300.23,86.73 300.90,87.80 C301.57,88.87 302.55,89.57 303.40,90.10 C304.25,90.63 304.90,90.77 306.00,91.00 C307.10,91.23 308.50,91.38 310.00,91.50 C311.50,91.62 313.23,91.62 315.00,91.70 C316.77,91.78 318.77,91.85 320.60,92.00 C322.43,92.15 324.23,92.30 326.00,92.60 C327.77,92.90 330.33,93.60 331.20,93.80" fill="none" stroke="#000" stroke-width="1.8" stroke-linejoin="round" stroke-linecap="round" />
<path d="M282.60,75.84 L283.20,74.72 L283.80,72.71 L284.40,69.73 L285.00,65.99 L285.60,62.46 L286.20,58.47 L286.80,54.44 L287.40,49.60 L288.00,43.17 L288.60,36.42 L289.20,29.61 L289.80,24.14 L290.40,21.33" fill="none" stroke="#1818e8" stroke-width="1.1" stroke-linejoin="round" stroke-linecap="round" stroke-dasharray="1.4 2.6"/>
<path d="M412.00,130.50 C412.67,130.65 414.67,131.17 416.00,131.40 C417.33,131.63 418.67,131.67 420.00,131.90 C421.33,132.13 422.62,132.53 424.00,132.80 C425.38,133.07 427.05,133.43 428.30,133.50 C429.55,133.57 430.52,133.48 431.50,133.20 C432.48,132.92 433.37,132.50 434.20,131.80 C435.03,131.10 435.82,130.13 436.50,129.00 C437.18,127.87 437.78,126.50 438.30,125.00 C438.82,123.50 439.18,121.83 439.60,120.00 C440.02,118.17 440.43,116.08 440.80,114.00 C441.17,111.92 441.50,109.67 441.80,107.50 C442.10,105.33 442.33,103.33 442.60,101.00 C442.87,98.67 443.13,96.08 443.40,93.50 C443.67,90.92 443.95,88.17 444.20,85.50 C444.45,82.83 444.68,80.17 444.90,77.50 C445.12,74.83 445.32,71.83 445.50,69.50 C445.68,67.17 445.83,65.02 446.00,63.50 C446.17,61.98 446.33,60.40 446.50,60.40 C446.67,60.40 446.82,61.90 447.00,63.50 C447.18,65.10 447.38,67.50 447.60,70.00 C447.82,72.50 448.07,75.67 448.30,78.50 C448.53,81.33 448.73,84.08 449.00,87.00 C449.27,89.92 449.60,93.00 449.90,96.00 C450.20,99.00 450.53,101.83 450.80,105.00 C451.07,108.17 451.28,111.92 451.50,115.00 C451.72,118.08 451.88,120.75 452.10,123.50 C452.32,126.25 452.53,128.83 452.80,131.50 C453.07,134.17 453.33,137.03 453.70,139.50 C454.07,141.97 454.45,144.00 455.00,146.30 C455.55,148.60 456.25,151.42 457.00,153.30 C457.75,155.18 458.48,156.43 459.50,157.60 C460.52,158.77 461.90,159.63 463.10,160.30 C464.30,160.97 466.10,161.38 466.70,161.60" fill="none" stroke="#a01818" stroke-width="1.8" stroke-linejoin="round" stroke-linecap="round" />
<path d="M368.00,91.00 C368.17,89.83 368.68,86.67 369.00,84.00 C369.32,81.33 369.62,78.33 369.90,75.00 C370.18,71.67 370.43,68.17 370.70,64.00 C370.97,59.83 371.25,54.33 371.50,50.00 C371.75,45.67 371.98,41.50 372.20,38.00 C372.42,34.50 372.60,31.23 372.80,29.00 C373.00,26.77 373.30,25.33 373.40,24.60" fill="none" stroke="#a8a820" stroke-width="1.2" stroke-linejoin="round" stroke-linecap="round" />
<path d="M362.10,40.50 L362.40,43.00 L362.70,46.00" fill="none" stroke="#000" stroke-width="1.2" stroke-linejoin="round" stroke-linecap="round" />
<text x="293.4" y="24.8" font-family="Liberation Serif" font-size="16.0" font-weight="bold" fill="#000" text-anchor="start" >μ</text>
<text x="301.3" y="20.1" font-family="Liberation Serif" font-size="14" font-weight="bold" fill="#222" text-anchor="start" font-style="italic" letter-spacing="-0.8">&#8242;&#8242;&#8242;</text>
<text x="313.8" y="72.0" font-family="Liberation Serif" font-size="16.0" font-weight="bold" fill="#000" text-anchor="start" >μ</text>
<text x="321.5" y="66.0" font-family="Liberation Serif" font-size="14" font-weight="bold" fill="#222" text-anchor="start" font-style="italic" letter-spacing="-0.8">&#8242;&#8242;</text>
<line x1="320.6" y1="71.2" x2="331.6" y2="78.8" stroke="#111" stroke-width="0.8"/>
<text x="345.0" y="76.0" font-family="Liberation Serif" font-size="16.0" font-weight="bold" fill="#000" text-anchor="start" >μ</text>
<text x="354.0" y="69.5" font-family="Liberation Serif" font-size="14" font-weight="bold" fill="#222" text-anchor="start" font-style="italic" letter-spacing="-0.8">&#8242;</text>
<line x1="350.5" y1="78.6" x2="352.6" y2="90.5" stroke="#111" stroke-width="0.8"/>
<text x="351.0" y="34.8" font-family="Liberation Serif" font-size="16.0" font-weight="bold" fill="#000" text-anchor="start" >μ</text>
<text x="359.3" y="30.0" font-family="Liberation Serif" font-size="12.5" fill="#222" text-anchor="start" >°</text>
<text x="375.8" y="26.5" font-family="Liberation Sans" font-size="16.2" font-weight="bold" fill="#000" text-anchor="start" >ν</text>
<text x="383.8" y="20.4" font-family="Liberation Serif" font-size="14" font-weight="bold" fill="#222" text-anchor="start" font-style="italic" letter-spacing="-0.8">&#8242;&#8242;&#8242;</text>
<text x="410.5" y="89.8" font-family="Liberation Sans" font-size="16.2" font-weight="bold" fill="#000" text-anchor="start" >ν</text>
<text x="419.3" y="85.2" font-family="Liberation Serif" font-size="14" font-weight="bold" fill="#222" text-anchor="start" font-style="italic" letter-spacing="-0.8">&#8242;&#8242;</text>
<line x1="417.5" y1="92" x2="417.5" y2="102" stroke="#333" stroke-width="0.8"/>
<text x="428.4" y="91.6" font-family="Liberation Sans" font-size="16.2" font-weight="bold" fill="#000" text-anchor="start" >ν</text>
<text x="436.6" y="86.6" font-family="Liberation Serif" font-size="14" font-weight="bold" fill="#222" text-anchor="start" font-style="italic" letter-spacing="-0.8">&#8242;</text>
<line x1="433.9" y1="95.4" x2="434.8" y2="105.3" stroke="#111" stroke-width="0.8"/>
<text x="442.6" y="50.2" font-family="Liberation Sans" font-size="16.2" font-weight="bold" fill="#000" text-anchor="start" >ν</text>
<text x="450.6" y="45.4" font-family="Liberation Serif" font-size="13.5" fill="#111" text-anchor="start" >°</text>
<text x="392.0" y="45.2" font-family="Liberation Serif" font-size="21" fill="#000" text-anchor="start" >Ce</text>
<text x="415.8" y="49.7" font-family="Liberation Serif" font-size="14.5" fill="#000" text-anchor="start" >3d</text>
<path d="M473.10,75.80 C474.02,77.30 476.57,81.05 478.60,84.80 C480.63,88.55 482.72,93.43 485.30,98.30 C487.88,103.17 491.17,109.45 494.10,114.00 C497.03,118.55 500.42,122.85 502.90,125.60 C505.38,128.35 506.78,129.23 509.00,130.50 C511.22,131.77 514.20,132.53 516.20,133.20 C518.20,133.87 519.53,134.03 521.00,134.50 C522.47,134.97 523.75,135.38 525.00,136.00 C526.25,136.62 527.38,137.43 528.50,138.20 C529.62,138.97 530.62,139.80 531.70,140.60 C532.78,141.40 533.90,142.27 535.00,143.00 C536.10,143.73 537.22,144.45 538.30,145.00 C539.38,145.55 540.38,145.97 541.50,146.30 C542.62,146.63 542.87,146.78 545.00,147.00 C547.13,147.22 550.97,147.43 554.30,147.60 C557.63,147.77 560.22,147.88 565.00,148.00 C569.78,148.12 576.40,148.13 583.00,148.30 C589.60,148.47 598.62,148.68 604.60,149.00 C610.58,149.32 614.67,149.83 618.90,150.20 C623.13,150.57 626.48,150.87 630.00,151.20 C633.52,151.53 636.67,151.97 640.00,152.20 C643.33,152.43 645.00,152.53 650.00,152.60 C655.00,152.67 663.25,152.60 670.00,152.60 C676.75,152.60 687.08,152.60 690.50,152.60" fill="none" stroke="#20a020" stroke-width="1.6" stroke-linejoin="round" stroke-linecap="round" />
<path d="M509.00,130.40 C509.83,130.43 512.50,130.55 514.00,130.60 C515.50,130.65 516.83,130.80 518.00,130.70 C519.17,130.60 520.00,130.22 521.00,130.00 C522.00,129.78 523.08,129.45 524.00,129.40 C524.92,129.35 525.67,129.40 526.50,129.70 C527.33,130.00 528.17,130.48 529.00,131.20 C529.83,131.92 530.67,132.95 531.50,134.00 C532.33,135.05 533.08,136.33 534.00,137.50 C534.92,138.67 536.00,139.98 537.00,141.00 C538.00,142.02 539.00,142.88 540.00,143.60 C541.00,144.32 542.50,145.02 543.00,145.30" fill="none" stroke="#404040" stroke-width="1.2" stroke-linejoin="round" stroke-linecap="round" />
<path d="M600.00,148.90 C600.67,148.88 602.92,148.95 604.00,148.80 C605.08,148.65 605.67,148.33 606.50,148.00 C607.33,147.67 608.08,147.30 609.00,146.80 C609.92,146.30 611.00,145.72 612.00,145.00 C613.00,144.28 614.00,143.33 615.00,142.50 C616.00,141.67 617.00,140.75 618.00,140.00 C619.00,139.25 620.00,138.50 621.00,138.00 C622.00,137.50 623.00,137.08 624.00,137.00 C625.00,136.92 626.00,137.08 627.00,137.50 C628.00,137.92 629.00,138.58 630.00,139.50 C631.00,140.42 632.00,141.78 633.00,143.00 C634.00,144.22 635.00,145.70 636.00,146.80 C637.00,147.90 638.00,148.83 639.00,149.60 C640.00,150.37 641.50,151.10 642.00,151.40" fill="none" stroke="#e02020" stroke-width="1.3" stroke-linejoin="round" stroke-linecap="round" />
<path d="M575.00,148.20 C575.83,148.08 578.33,147.82 580.00,147.50 C581.67,147.18 583.33,146.70 585.00,146.30 C586.67,145.90 588.50,145.38 590.00,145.10 C591.50,144.82 592.67,144.62 594.00,144.60 C595.33,144.58 596.67,144.73 598.00,145.00 C599.33,145.27 600.67,145.80 602.00,146.20 C603.33,146.60 604.67,147.00 606.00,147.40 C607.33,147.80 609.33,148.40 610.00,148.60" fill="none" stroke="#20e0e0" stroke-width="1.6" stroke-linejoin="round" stroke-linecap="round" />
<path d="M473.10,74.83 L473.55,76.64 L474.00,77.29 L474.45,77.73 L474.90,77.96 L475.35,79.84 L475.80,80.58 L476.25,80.67 L476.70,81.32 L477.15,81.45 L477.60,81.66 L478.05,83.11 L478.50,84.30 L478.95,84.07 L479.40,86.37 L479.85,86.13 L480.30,87.03 L480.75,87.56 L481.20,90.38 L481.65,90.78 L482.10,91.95 L482.55,92.33 L483.00,92.08 L483.45,93.58 L483.90,94.83 L484.35,94.96 L484.80,97.53 L485.25,97.24 L485.70,97.68 L486.15,99.88 L486.60,99.37 L487.05,101.84 L487.50,101.74 L487.95,102.79 L488.40,103.21 L488.85,104.31 L489.30,104.52 L489.75,105.01 L490.20,107.44 L490.65,106.95 L491.10,108.79 L491.55,108.40 L492.00,110.65 L492.45,111.23 L492.90,111.66 L493.35,112.38 L493.80,112.71 L494.25,113.68 L494.70,113.13 L495.15,114.49 L495.60,115.83 L496.05,115.21 L496.50,117.27 L496.95,117.80 L497.40,117.43 L497.85,117.92 L498.30,118.65 L498.75,119.07 L499.20,120.83 L499.65,120.13 L500.10,119.92 L500.55,120.55 L501.00,122.28 L501.45,123.30 L501.90,122.78 L502.35,123.23 L502.80,123.80 L503.25,124.65 L503.70,124.04 L504.15,125.26 L504.60,125.58 L505.05,126.13 L505.50,125.65 L505.95,126.02 L506.40,126.74 L506.85,128.24 L507.30,127.41 L507.75,128.22 L508.20,127.94 L508.65,127.81 L509.10,128.01 L509.55,129.77 L510.00,129.95 L510.45,129.39 L510.90,130.24 L511.35,130.44 L511.80,131.10 L512.25,131.41 L512.70,130.48 L513.15,131.81 L513.60,131.90 L514.05,131.29 L514.50,131.98 L514.95,131.30 L515.40,131.15 L515.85,130.97 L516.30,132.29 L516.75,130.91 L517.20,130.75 L517.65,132.24 L518.10,132.19 L518.55,131.61 L519.00,132.31 L519.45,130.73 L519.90,131.14 L520.35,131.19 L520.80,131.43 L521.25,130.91 L521.70,130.66 L522.15,131.14 L522.60,132.21 L523.05,132.32 L523.50,131.81 L523.95,131.26 L524.40,130.80 L524.85,132.21 L525.30,131.35 L525.75,131.78 L526.20,130.42 L526.65,130.86 L527.10,132.24 L527.55,132.36 L528.00,132.82 L528.45,132.64 L528.90,132.73 L529.35,133.51 L529.80,134.52 L530.25,133.97 L530.70,135.00 L531.15,135.06 L531.60,136.61 L532.05,135.65 L532.50,137.57 L532.95,138.67 L533.40,137.38 L533.85,139.07 L534.30,139.70 L534.75,140.63 L535.20,140.58 L535.65,140.38 L536.10,141.10 L536.55,142.62 L537.00,142.91 L537.45,141.76 L537.90,142.06 L538.35,142.43 L538.80,142.66 L539.25,143.87 L539.70,143.62 L540.15,145.42 L540.60,145.32 L541.05,144.57 L541.50,145.68 L541.95,145.51 L542.40,146.09 L542.85,145.77 L543.30,145.87 L543.75,146.11 L544.20,146.68 L544.65,147.53 L545.10,147.37 L545.55,146.52 L546.00,147.98 L546.45,148.43 L546.90,148.34 L547.35,148.47 L547.80,146.98 L548.25,147.97 L548.70,147.23 L549.15,148.68 L549.60,147.54 L550.05,148.65 L550.50,147.76 L550.95,148.67 L551.40,147.92 L551.85,147.39 L552.30,148.10 L552.75,147.95 L553.20,149.13 L553.65,147.92 L554.10,148.34 L554.55,148.42 L555.00,149.21 L555.45,147.51 L555.90,148.50 L556.35,148.31 L556.80,148.75 L557.25,149.21 L557.70,147.88 L558.15,148.65 L558.60,148.29 L559.05,148.34 L559.50,147.33 L559.95,148.81 L560.40,149.12 L560.85,147.85 L561.30,147.75 L561.75,149.07 L562.20,147.26 L562.65,147.16 L563.10,147.11 L563.55,148.55 L564.00,148.39 L564.45,147.71 L564.90,148.00 L565.35,146.73 L565.80,147.92 L566.25,147.45 L566.70,147.53 L567.15,147.20 L567.60,147.15 L568.05,146.72 L568.50,146.28 L568.95,146.97 L569.40,146.52 L569.85,147.35 L570.30,147.49 L570.75,147.21 L571.20,146.59 L571.65,146.06 L572.10,146.27 L572.55,146.37 L573.00,146.56 L573.45,147.12 L573.90,145.25 L574.35,145.94 L574.80,145.85 L575.25,146.20 L575.70,146.45 L576.15,146.13 L576.60,145.73 L577.05,145.91 L577.50,145.65 L577.95,145.95 L578.40,145.56 L578.85,145.45 L579.30,144.51 L579.75,145.79 L580.20,144.66 L580.65,145.05 L581.10,145.41 L581.55,145.63 L582.00,145.61 L582.45,143.59 L582.90,144.14 L583.35,144.08 L583.80,144.17 L584.25,143.62 L584.70,144.38 L585.15,143.37 L585.60,143.76 L586.05,144.99 L586.50,144.54 L586.95,143.93 L587.40,143.17 L587.85,144.83 L588.30,144.28 L588.75,143.25 L589.20,143.47 L589.65,144.04 L590.10,144.09 L590.55,143.21 L591.00,144.57 L591.45,143.28 L591.90,143.13 L592.35,144.30 L592.80,142.91 L593.25,143.97 L593.70,143.02 L594.15,143.84 L594.60,143.24 L595.05,143.49 L595.50,144.68 L595.95,143.79 L596.40,143.79 L596.85,144.21 L597.30,143.60 L597.75,143.45 L598.20,143.94 L598.65,143.79 L599.10,143.69 L599.55,145.31 L600.00,143.52 L600.45,145.14 L600.90,145.46 L601.35,145.07 L601.80,143.77 L602.25,144.80 L602.70,143.94 L603.15,145.13 L603.60,145.37 L604.05,144.48 L604.50,144.05 L604.95,145.14 L605.40,144.25 L605.85,144.69 L606.30,144.97 L606.75,145.83 L607.20,144.76 L607.65,144.24 L608.10,145.50 L608.55,145.49 L609.00,144.82 L609.45,143.76 L609.90,143.93 L610.35,144.25 L610.80,144.42 L611.25,143.63 L611.70,144.64 L612.15,144.56 L612.60,144.54 L613.05,144.24 L613.50,142.27 L613.95,143.12 L614.40,141.82 L614.85,143.14 L615.30,142.50 L615.75,142.20 L616.20,140.73 L616.65,140.14 L617.10,141.30 L617.55,140.53 L618.00,140.21 L618.45,139.57 L618.90,139.90 L619.35,138.66 L619.80,138.20 L620.25,138.05 L620.70,137.64 L621.15,138.01 L621.60,138.28 L622.05,136.42 L622.50,136.22 L622.95,136.93 L623.40,137.11 L623.85,136.01 L624.30,136.08 L624.75,135.60 L625.20,135.54 L625.65,136.47 L626.10,136.88 L626.55,136.90 L627.00,136.02 L627.45,136.07 L627.90,137.93 L628.35,137.41 L628.80,137.47 L629.25,138.39 L629.70,138.81 L630.15,138.76 L630.60,138.24 L631.05,140.13 L631.50,139.32 L631.95,139.41 L632.40,140.53 L632.85,141.44 L633.30,142.23 L633.75,141.95 L634.20,143.66 L634.65,143.86 L635.10,143.83 L635.55,145.87 L636.00,146.44 L636.45,147.28 L636.90,147.43 L637.35,147.07 L637.80,148.74 L638.25,149.52 L638.70,149.28 L639.15,150.49 L639.60,151.03 L640.05,150.25 L640.50,151.70 L640.95,151.99 L641.40,151.96 L641.85,150.60 L642.30,151.46 L642.75,152.13 L643.20,152.24 L643.65,152.63 L644.10,152.48 L644.55,151.57 L645.00,153.16 L645.45,152.41 L645.90,153.13 L646.35,151.79 L646.80,153.38 L647.25,152.50 L647.70,152.95 L648.15,152.88 L648.60,153.16 L649.05,152.12 L649.50,151.56 L649.95,152.21 L650.40,151.76 L650.85,152.49 L651.30,153.04 L651.75,152.13 L652.20,151.67 L652.65,151.46 L653.10,152.25 L653.55,152.57 L654.00,151.46 L654.45,152.73 L654.90,151.82 L655.35,151.61 L655.80,153.26 L656.25,152.45 L656.70,153.19 L657.15,152.43 L657.60,151.65 L658.05,151.88 L658.50,152.25 L658.95,152.68 L659.40,152.94 L659.85,152.90 L660.30,152.70 L660.75,151.91 L661.20,152.26 L661.65,152.16 L662.10,152.38 L662.55,151.93 L663.00,152.48 L663.45,152.32 L663.90,151.47 L664.35,153.05 L664.80,152.57 L665.25,153.01 L665.70,152.87 L666.15,152.86 L666.60,153.39 L667.05,152.15 L667.50,152.19 L667.95,151.41 L668.40,152.73 L668.85,152.56 L669.30,152.55 L669.75,153.40 L670.20,151.79 L670.65,151.85 L671.10,152.87 L671.55,153.02 L672.00,152.37 L672.45,151.51 L672.90,152.14 L673.35,153.05 L673.80,152.40 L674.25,152.32 L674.70,152.18 L675.15,152.66 L675.60,152.60 L676.05,152.79 L676.50,153.13 L676.95,152.90 L677.40,152.15 L677.85,151.90 L678.30,152.96 L678.75,152.99 L679.20,153.26 L679.65,151.80 L680.10,153.10 L680.55,153.18 L681.00,151.55 L681.45,152.02 L681.90,152.67 L682.35,151.69 L682.80,153.06 L683.25,151.93 L683.70,152.76 L684.15,151.99 L684.60,151.84 L685.05,151.81 L685.50,152.40 L685.95,152.83 L686.40,151.84 L686.85,152.77 L687.30,152.07 L687.75,152.70 L688.20,152.14 L688.65,151.79 L689.10,151.68 L689.55,151.52 L690.00,152.79 L690.45,152.23" fill="none" stroke="#111" stroke-width="0.8" stroke-linejoin="round" stroke-linecap="round" />
<path d="M473.10,75.50 C473.50,76.17 474.58,78.03 475.50,79.50 C476.42,80.97 477.52,82.38 478.60,84.30 C479.68,86.22 480.88,88.78 482.00,91.00 C483.12,93.22 484.05,95.18 485.30,97.60 C486.55,100.02 488.03,102.93 489.50,105.50 C490.97,108.07 492.60,110.75 494.10,113.00 C495.60,115.25 497.03,117.20 498.50,119.00 C499.97,120.80 501.48,122.38 502.90,123.80 C504.32,125.22 505.52,126.42 507.00,127.50 C508.48,128.58 510.30,129.63 511.80,130.30 C513.30,130.97 514.53,131.28 516.00,131.50 C517.47,131.72 519.27,131.63 520.60,131.60 C521.93,131.57 522.90,131.30 524.00,131.30 C525.10,131.30 526.28,131.23 527.20,131.60 C528.12,131.97 528.75,132.73 529.50,133.50 C530.25,134.27 530.78,135.08 531.70,136.20 C532.62,137.32 533.90,139.03 535.00,140.20 C536.10,141.37 537.22,142.30 538.30,143.20 C539.38,144.10 540.40,144.93 541.50,145.60 C542.60,146.27 543.82,146.80 544.90,147.20 C545.98,147.60 546.88,147.82 548.00,148.00 C549.12,148.18 550.27,148.25 551.60,148.30 C552.93,148.35 554.35,148.33 556.00,148.30 C557.65,148.27 559.83,148.22 561.50,148.10 C563.17,147.98 564.32,147.85 566.00,147.60 C567.68,147.35 569.77,146.97 571.60,146.60 C573.43,146.23 575.10,145.75 577.00,145.40 C578.90,145.05 581.17,144.75 583.00,144.50 C584.83,144.25 586.32,144.05 588.00,143.90 C589.68,143.75 591.60,143.58 593.10,143.60 C594.60,143.62 595.80,143.85 597.00,144.00 C598.20,144.15 599.13,144.33 600.30,144.50 C601.47,144.67 602.82,144.92 604.00,145.00 C605.18,145.08 606.32,145.10 607.40,145.00 C608.48,144.90 609.53,144.67 610.50,144.40 C611.47,144.13 612.28,143.88 613.20,143.40 C614.12,142.92 615.05,142.18 616.00,141.50 C616.95,140.82 617.93,139.98 618.90,139.30 C619.87,138.62 620.85,137.87 621.80,137.40 C622.75,136.93 623.68,136.60 624.60,136.50 C625.52,136.40 626.48,136.52 627.30,136.80 C628.12,137.08 628.68,137.57 629.50,138.20 C630.32,138.83 631.35,139.67 632.20,140.60 C633.05,141.53 633.80,142.70 634.60,143.80 C635.40,144.90 636.18,146.17 637.00,147.20 C637.82,148.23 638.68,149.27 639.50,150.00 C640.32,150.73 640.98,151.22 641.90,151.60 C642.82,151.98 643.65,152.17 645.00,152.30 C646.35,152.43 648.08,152.38 650.00,152.40 C651.92,152.42 653.17,152.40 656.50,152.40 C659.83,152.40 664.33,152.40 670.00,152.40 C675.67,152.40 687.08,152.40 690.50,152.40" fill="none" stroke="#109090" stroke-width="1.8" stroke-linejoin="round" stroke-linecap="round" />
<path d="M472.20,76.08h1.80M473.10,75.18v1.80M473.00,76.70h1.80M473.90,75.80v1.80M474.82,80.07h1.80M475.72,79.17v1.80M476.28,82.53h1.80M477.18,81.63v1.80M477.42,84.43h1.80M478.32,83.53v1.80M479.20,86.65h1.80M480.10,85.75v1.80M480.31,87.36h1.80M481.21,86.46v1.80M481.80,90.89h1.80M482.70,89.99v1.80M483.54,95.83h1.80M484.44,94.93v1.80M485.24,98.89h1.80M486.14,97.99v1.80M486.63,101.63h1.80M487.53,100.73v1.80M488.30,105.63h1.80M489.20,104.73v1.80M489.68,109.12h1.80M490.58,108.22v1.80M491.46,109.58h1.80M492.36,108.68v1.80M492.83,111.96h1.80M493.73,111.06v1.80M493.88,112.57h1.80M494.78,111.67v1.80M495.66,115.76h1.80M496.56,114.86v1.80M497.43,120.56h1.80M498.33,119.66v1.80M498.89,121.80h1.80M499.79,120.90v1.80M500.36,123.72h1.80M501.26,122.82v1.80M501.33,124.42h1.80M502.23,123.52v1.80M502.15,124.36h1.80M503.05,123.46v1.80M503.89,124.32h1.80M504.79,123.42v1.80M505.09,126.66h1.80M505.99,125.76v1.80M506.56,128.64h1.80M507.46,127.74v1.80M507.73,128.12h1.80M508.63,127.22v1.80M509.12,128.97h1.80M510.02,128.07v1.80M510.46,131.51h1.80M511.36,130.61v1.80M511.69,130.00h1.80M512.59,129.10v1.80M512.56,129.74h1.80M513.46,128.84v1.80M514.38,130.66h1.80M515.28,129.76v1.80M515.58,132.48h1.80M516.48,131.58v1.80M517.32,132.90h1.80M518.22,132.00v1.80M518.52,131.24h1.80M519.42,130.34v1.80M519.40,132.14h1.80M520.30,131.24v1.80M520.75,131.12h1.80M521.65,130.22v1.80M521.89,130.90h1.80M522.79,130.00v1.80M522.87,132.22h1.80M523.77,131.32v1.80M523.69,129.38h1.80M524.59,128.48v1.80M525.14,130.91h1.80M526.04,130.01v1.80M526.13,131.42h1.80M527.03,130.52v1.80M527.34,131.91h1.80M528.24,131.01v1.80M528.98,134.99h1.80M529.88,134.09v1.80M530.64,135.42h1.80M531.54,134.52v1.80M531.94,136.19h1.80M532.84,135.29v1.80M533.75,139.60h1.80M534.65,138.70v1.80M535.31,139.64h1.80M536.21,138.74v1.80M536.75,142.96h1.80M537.65,142.06v1.80M537.90,144.05h1.80M538.80,143.15v1.80M539.31,142.74h1.80M540.21,141.84v1.80M541.08,147.16h1.80M541.98,146.26v1.80M542.52,146.74h1.80M543.42,145.84v1.80M543.65,147.87h1.80M544.55,146.97v1.80M544.88,148.98h1.80M545.78,148.08v1.80M545.94,150.55h1.80M546.84,149.65v1.80M547.09,148.75h1.80M547.99,147.85v1.80M547.99,148.30h1.80M548.89,147.40v1.80M549.67,149.08h1.80M550.57,148.18v1.80M550.64,148.22h1.80M551.54,147.32v1.80M551.91,148.82h1.80M552.81,147.92v1.80M552.90,147.33h1.80M553.80,146.43v1.80M554.65,149.80h1.80M555.55,148.90v1.80M556.29,149.31h1.80M557.19,148.41v1.80M557.96,148.48h1.80M558.86,147.58v1.80M558.77,148.57h1.80M559.67,147.67v1.80M559.95,149.36h1.80M560.85,148.46v1.80M561.51,147.79h1.80M562.41,146.89v1.80M562.55,146.73h1.80M563.45,145.83v1.80M563.57,147.77h1.80M564.47,146.87v1.80M565.04,148.01h1.80M565.94,147.11v1.80M565.98,148.68h1.80M566.88,147.78v1.80M566.82,146.31h1.80M567.72,145.41v1.80M568.12,146.84h1.80M569.02,145.94v1.80M569.41,146.66h1.80M570.31,145.76v1.80M570.22,146.71h1.80M571.12,145.81v1.80M571.66,146.30h1.80M572.56,145.40v1.80M573.46,146.43h1.80M574.36,145.53v1.80M574.80,145.01h1.80M575.70,144.11v1.80M575.72,144.27h1.80M576.62,143.37v1.80M577.35,147.02h1.80M578.25,146.12v1.80M578.14,143.91h1.80M579.04,143.01v1.80M579.10,145.99h1.80M580.00,145.09v1.80M580.72,145.78h1.80M581.62,144.88v1.80M581.88,143.66h1.80M582.78,142.76v1.80M583.54,143.60h1.80M584.44,142.70v1.80M584.61,144.11h1.80M585.51,143.21v1.80M585.55,144.75h1.80M586.45,143.85v1.80M587.06,142.79h1.80M587.96,141.89v1.80M588.69,144.47h1.80M589.59,143.57v1.80M589.89,143.56h1.80M590.79,142.66v1.80M591.58,143.68h1.80M592.48,142.78v1.80M593.04,142.55h1.80M593.94,141.65v1.80M594.02,143.91h1.80M594.92,143.01v1.80M595.20,144.18h1.80M596.10,143.28v1.80M596.22,141.13h1.80M597.12,140.23v1.80M597.16,143.83h1.80M598.06,142.93v1.80M598.52,145.35h1.80M599.42,144.45v1.80M599.85,143.45h1.80M600.75,142.55v1.80M601.43,147.46h1.80M602.33,146.56v1.80M602.92,145.35h1.80M603.82,144.45v1.80M604.54,145.29h1.80M605.44,144.39v1.80M605.39,144.62h1.80M606.29,143.72v1.80M606.36,142.42h1.80M607.26,141.52v1.80M608.08,144.69h1.80M608.98,143.79v1.80M609.29,143.19h1.80M610.19,142.29v1.80M610.42,142.91h1.80M611.32,142.01v1.80M612.21,145.10h1.80M613.11,144.20v1.80M613.92,141.72h1.80M614.82,140.82v1.80M615.54,140.62h1.80M616.44,139.72v1.80M616.61,139.56h1.80M617.51,138.66v1.80M617.64,141.91h1.80M618.54,141.01v1.80M618.73,139.67h1.80M619.63,138.77v1.80M619.53,138.01h1.80M620.43,137.11v1.80M620.78,137.93h1.80M621.68,137.03v1.80M621.90,137.53h1.80M622.80,136.63v1.80M623.11,137.71h1.80M624.01,136.81v1.80M624.26,136.83h1.80M625.16,135.93v1.80M625.60,135.72h1.80M626.50,134.82v1.80M627.30,138.27h1.80M628.20,137.37v1.80M628.12,137.55h1.80M629.02,136.65v1.80M629.89,138.48h1.80M630.79,137.58v1.80M630.80,140.01h1.80M631.70,139.11v1.80M631.83,141.00h1.80M632.73,140.10v1.80M632.66,142.89h1.80M633.56,141.99v1.80M634.47,145.14h1.80M635.37,144.24v1.80M635.75,146.26h1.80M636.65,145.36v1.80M637.37,148.32h1.80M638.27,147.42v1.80M638.50,149.90h1.80M639.40,149.00v1.80M639.68,152.12h1.80M640.58,151.22v1.80M640.93,150.83h1.80M641.83,149.93v1.80M642.37,153.64h1.80M643.27,152.74v1.80M643.99,152.79h1.80M644.89,151.89v1.80M645.47,151.80h1.80M646.37,150.90v1.80M646.26,153.08h1.80M647.16,152.18v1.80M647.12,153.08h1.80M648.02,152.18v1.80M648.71,153.40h1.80M649.61,152.50v1.80M649.72,150.86h1.80M650.62,149.96v1.80M651.15,152.68h1.80M652.05,151.78v1.80M651.95,153.69h1.80M652.85,152.79v1.80M653.05,151.70h1.80M653.95,150.80v1.80M654.08,151.44h1.80M654.98,150.54v1.80M655.21,150.03h1.80M656.11,149.13v1.80M656.40,151.76h1.80M657.30,150.86v1.80M657.61,152.16h1.80M658.51,151.26v1.80M659.34,150.48h1.80M660.24,149.58v1.80M660.39,151.69h1.80M661.29,150.79v1.80M662.08,152.56h1.80M662.98,151.66v1.80M663.41,151.63h1.80M664.31,150.73v1.80M664.90,151.06h1.80M665.80,150.16v1.80M665.93,151.74h1.80M666.83,150.84v1.80M667.28,151.20h1.80M668.18,150.30v1.80M668.45,153.96h1.80M669.35,153.06v1.80M670.25,151.71h1.80M671.15,150.81v1.80M671.46,152.02h1.80M672.36,151.12v1.80M672.37,152.37h1.80M673.27,151.47v1.80M673.78,152.06h1.80M674.68,151.16v1.80M674.88,152.50h1.80M675.78,151.60v1.80M676.37,151.84h1.80M677.27,150.94v1.80M677.89,152.46h1.80M678.79,151.56v1.80M679.06,152.98h1.80M679.96,152.08v1.80M680.52,152.39h1.80M681.42,151.49v1.80M681.76,152.55h1.80M682.66,151.65v1.80M683.38,153.83h1.80M684.28,152.93v1.80M684.68,154.59h1.80M685.58,153.69v1.80M685.63,153.26h1.80M686.53,152.36v1.80M686.91,153.02h1.80M687.81,152.12v1.80M687.87,153.52h1.80M688.77,152.62v1.80M688.91,153.05h1.80M689.81,152.15v1.80" stroke="#111" stroke-width="0.7" fill="none"/>
<text x="528.6" y="114.0" font-family="Liberation Serif" font-size="15.2" font-weight="bold" fill="#000" text-anchor="start" >Co</text>
<text x="545.8" y="107.6" font-family="Liberation Serif" font-size="10.5" font-weight="bold" fill="#000" text-anchor="start" >3+</text>
<line x1="536.0" y1="115.2" x2="529.8" y2="131.0" stroke="#111" stroke-width="0.8"/>
<path d="M529.80,131.00 L529.67,127.51 L532.27,128.53 Z" fill="#111"/>
<text x="569.0" y="123.0" font-family="Liberation Serif" font-size="14.5" font-weight="bold" fill="#000" text-anchor="start" textLength="54.2" lengthAdjust="spacingAndGlyphs">satellites</text>
<line x1="595.0" y1="126.4" x2="594.6" y2="142.6" stroke="#111" stroke-width="0.8"/>
<path d="M594.60,142.60 L593.28,139.37 L596.08,139.44 Z" fill="#111"/>
<text x="636.0" y="120.8" font-family="Liberation Serif" font-size="15.2" font-weight="bold" fill="#000" text-anchor="start" >Co</text>
<text x="653.4" y="113.8" font-family="Liberation Serif" font-size="10.5" font-weight="bold" fill="#000" text-anchor="start" >2+</text>
<line x1="644.3" y1="122.0" x2="632.4" y2="136.4" stroke="#111" stroke-width="0.8"/>
<path d="M632.40,136.40 L633.36,133.04 L635.52,134.83 Z" fill="#111"/>
<text x="674.0" y="33.8" font-family="Liberation Serif" font-size="19.8" fill="#000" text-anchor="start" textLength="24.6" lengthAdjust="spacingAndGlyphs">Co</text>
<text x="699.0" y="38.6" font-family="Liberation Serif" font-size="14.0" fill="#000" text-anchor="start" >2p</text>
<path d="M100.00,369.50 C100.83,369.17 103.33,368.08 105.00,367.50 C106.67,366.92 108.33,366.42 110.00,366.00 C111.67,365.58 113.33,365.22 115.00,365.00 C116.67,364.78 118.50,364.60 120.00,364.70 C121.50,364.80 122.62,365.18 124.00,365.60 C125.38,366.02 126.88,366.60 128.30,367.20 C129.72,367.80 131.12,368.52 132.50,369.20 C133.88,369.88 135.27,370.63 136.60,371.30 C137.93,371.97 139.13,372.65 140.50,373.20 C141.87,373.75 143.22,374.15 144.80,374.60 C146.38,375.05 148.07,375.48 150.00,375.90 C151.93,376.32 154.23,376.70 156.40,377.10 C158.57,377.50 160.78,377.88 163.00,378.30 C165.22,378.72 167.53,379.17 169.70,379.60 C171.87,380.03 174.12,380.47 176.00,380.90 C177.88,381.33 179.30,381.73 181.00,382.20 C182.70,382.67 184.70,383.30 186.20,383.70 C187.70,384.10 189.37,384.45 190.00,384.60" fill="none" stroke="#10e8e8" stroke-width="1.4" stroke-linejoin="round" stroke-linecap="round" />
<path d="M45.10,376.40 C50.92,376.47 67.52,376.68 80.00,376.80 C92.48,376.92 111.13,377.05 120.00,377.10 C128.87,377.15 130.03,377.37 133.20,377.10 C136.37,376.83 137.07,376.18 139.00,375.50 C140.93,374.82 143.13,373.92 144.80,373.00 C146.47,372.08 147.62,370.97 149.00,370.00 C150.38,369.03 151.68,367.95 153.10,367.20 C154.52,366.45 156.12,365.87 157.50,365.50 C158.88,365.13 160.32,365.03 161.40,365.00 C162.48,364.97 163.17,365.07 164.00,365.30 C164.83,365.53 165.45,365.85 166.40,366.40 C167.35,366.95 168.60,367.78 169.70,368.60 C170.80,369.42 171.78,370.30 173.00,371.30 C174.22,372.30 175.62,373.50 177.00,374.60 C178.38,375.70 179.88,376.85 181.30,377.90 C182.72,378.95 184.13,379.93 185.50,380.90 C186.87,381.87 188.25,382.95 189.50,383.70 C190.75,384.45 191.88,384.98 193.00,385.40 C194.12,385.82 195.03,386.00 196.20,386.20 C197.37,386.40 199.37,386.53 200.00,386.60" fill="none" stroke="#1818ff" stroke-width="1.4" stroke-linejoin="round" stroke-linecap="round" />
<path d="M45.10,376.60 C50.92,376.63 67.52,376.68 80.00,376.80 C92.48,376.92 110.57,377.17 120.00,377.30 C129.43,377.43 131.08,377.40 136.60,377.60 C142.12,377.80 147.58,378.08 153.10,378.50 C158.62,378.92 165.88,379.68 169.70,380.10 C173.52,380.52 173.80,380.58 176.00,381.00 C178.20,381.42 180.90,382.05 182.90,382.60 C184.90,383.15 186.35,383.75 188.00,384.30 C189.65,384.85 190.88,385.50 192.80,385.90 C194.72,386.30 196.63,386.53 199.50,386.70 C202.37,386.87 205.75,386.85 210.00,386.90 C214.25,386.95 222.50,386.98 225.00,387.00" fill="none" stroke="#ff10ff" stroke-width="1.4" stroke-linejoin="round" stroke-linecap="round" stroke-dasharray="6 2"/>
<path d="M150.00,378.80 C150.83,378.77 153.38,378.75 155.00,378.60 C156.62,378.45 158.28,378.50 159.70,377.90 C161.12,377.30 162.45,375.95 163.50,375.00 C164.55,374.05 165.25,373.08 166.00,372.20 C166.75,371.32 167.25,370.77 168.00,369.70 C168.75,368.63 169.67,367.12 170.50,365.80 C171.33,364.48 172.28,362.88 173.00,361.80 C173.72,360.72 174.25,359.90 174.80,359.30 C175.35,358.70 175.78,358.28 176.30,358.20 C176.82,358.12 177.35,358.38 177.90,358.80 C178.45,359.22 179.03,359.83 179.60,360.70 C180.17,361.57 180.75,362.78 181.30,364.00 C181.85,365.22 182.20,366.42 182.90,368.00 C183.60,369.58 184.67,371.85 185.50,373.50 C186.33,375.15 187.07,376.57 187.90,377.90 C188.73,379.23 189.68,380.53 190.50,381.50 C191.32,382.47 191.88,383.12 192.80,383.70 C193.72,384.28 194.88,384.68 196.00,385.00 C197.12,385.32 198.00,385.38 199.50,385.60 C201.00,385.82 204.08,386.18 205.00,386.30" fill="none" stroke="#18ee18" stroke-width="1.4" stroke-linejoin="round" stroke-linecap="round" />
<path d="M165.00,379.20 C165.67,379.10 167.95,378.92 169.00,378.60 C170.05,378.28 170.63,377.98 171.30,377.30 C171.97,376.62 172.45,375.77 173.00,374.50 C173.55,373.23 174.12,371.78 174.60,369.70 C175.08,367.62 175.48,364.77 175.90,362.00 C176.32,359.23 176.68,356.60 177.10,353.10 C177.52,349.60 177.98,345.13 178.40,341.00 C178.82,336.87 179.17,332.97 179.60,328.30 C180.03,323.63 180.52,318.22 181.00,313.00 C181.48,307.78 182.00,302.00 182.50,297.00 C183.00,292.00 183.50,287.00 184.00,283.00 C184.50,279.00 185.05,275.37 185.50,273.00 C185.95,270.63 186.37,269.55 186.70,268.80 C187.03,268.05 187.23,268.30 187.50,268.50 C187.77,268.70 187.97,268.42 188.30,270.00 C188.63,271.58 189.08,273.67 189.50,278.00 C189.92,282.33 190.38,289.83 190.80,296.00 C191.22,302.17 191.58,309.00 192.00,315.00 C192.42,321.00 192.88,327.03 193.30,332.00 C193.72,336.97 194.05,340.72 194.50,344.80 C194.95,348.88 195.45,352.90 196.00,356.50 C196.55,360.10 197.13,363.40 197.80,366.40 C198.47,369.40 199.17,372.30 200.00,374.50 C200.83,376.70 201.80,378.15 202.80,379.60 C203.80,381.05 204.90,382.23 206.00,383.20 C207.10,384.17 208.07,384.83 209.40,385.40 C210.73,385.97 212.23,386.33 214.00,386.60 C215.77,386.87 219.00,386.93 220.00,387.00" fill="none" stroke="#ff1414" stroke-width="1.4" stroke-linejoin="round" stroke-linecap="round" />
<path d="M45.10,374.82 L45.60,374.94 L46.10,375.32 L46.60,375.72 L47.10,374.94 L47.60,374.89 L48.10,375.05 L48.60,375.77 L49.10,374.90 L49.60,375.72 L50.10,375.60 L50.60,374.85 L51.10,375.39 L51.60,375.25 L52.10,375.19 L52.60,375.99 L53.10,374.71 L53.60,374.59 L54.10,375.85 L54.60,375.08 L55.10,374.77 L55.60,374.93 L56.10,374.96 L56.60,375.76 L57.10,374.69 L57.60,374.67 L58.10,375.16 L58.60,375.08 L59.10,375.61 L59.60,375.42 L60.10,374.71 L60.60,374.47 L61.10,375.32 L61.60,375.49 L62.10,374.11 L62.60,375.06 L63.10,375.21 L63.60,374.86 L64.10,374.21 L64.60,374.97 L65.10,374.82 L65.60,374.02 L66.10,374.59 L66.60,373.94 L67.10,373.63 L67.60,373.98 L68.10,373.91 L68.60,373.93 L69.10,374.22 L69.60,374.41 L70.10,374.52 L70.60,374.47 L71.10,374.42 L71.60,374.06 L72.10,373.31 L72.60,373.06 L73.10,373.61 L73.60,373.43 L74.10,373.53 L74.60,372.64 L75.10,372.70 L75.60,373.64 L76.10,373.12 L76.60,373.17 L77.10,372.25 L77.60,372.59 L78.10,373.22 L78.60,372.77 L79.10,373.17 L79.60,371.97 L80.10,372.24 L80.60,372.64 L81.10,372.05 L81.60,372.44 L82.10,372.03 L82.60,371.32 L83.10,371.20 L83.60,372.35 L84.10,371.04 L84.60,371.05 L85.10,371.15 L85.60,371.58 L86.10,371.68 L86.60,371.05 L87.10,370.98 L87.60,371.29 L88.10,370.47 L88.60,370.50 L89.10,370.74 L89.60,370.67 L90.10,369.72 L90.60,369.72 L91.10,369.65 L91.60,370.36 L92.10,370.21 L92.60,370.49 L93.10,370.09 L93.60,369.26 L94.10,369.86 L94.60,370.06 L95.10,369.06 L95.60,368.47 L96.10,368.87 L96.60,368.63 L97.10,368.37 L97.60,368.07 L98.10,368.08 L98.60,369.00 L99.10,367.75 L99.60,368.43 L100.10,367.74 L100.60,367.61 L101.10,368.38 L101.60,367.54 L102.10,367.27 L102.60,367.54 L103.10,367.76 L103.60,367.42 L104.10,367.78 L104.60,367.04 L105.10,367.11 L105.60,367.27 L106.10,366.82 L106.60,367.07 L107.10,366.62 L107.60,366.06 L108.10,365.95 L108.60,366.77 L109.10,366.62 L109.60,366.80 L110.10,366.35 L110.60,366.09 L111.10,365.41 L111.60,366.27 L112.10,365.13 L112.60,365.45 L113.10,364.95 L113.60,365.18 L114.10,364.98 L114.60,365.05 L115.10,365.36 L115.60,365.04 L116.10,364.55 L116.60,365.23 L117.10,365.11 L117.60,365.18 L118.10,364.01 L118.60,364.77 L119.10,365.13 L119.60,364.20 L120.10,364.10 L120.60,364.93 L121.10,364.30 L121.60,364.35 L122.10,364.94 L122.60,364.35 L123.10,364.12 L123.60,364.17 L124.10,364.40 L124.60,364.94 L125.10,364.53 L125.60,365.15 L126.10,364.23 L126.60,364.55 L127.10,365.16 L127.60,365.04 L128.10,365.15 L128.60,365.85 L129.10,365.03 L129.60,364.99 L130.10,364.89 L130.60,365.64 L131.10,365.51 L131.60,365.90 L132.10,365.39 L132.60,365.53 L133.10,366.20 L133.60,366.86 L134.10,366.35 L134.60,367.33 L135.10,366.99 L135.60,366.87 L136.10,367.52 L136.60,366.88 L137.10,367.52 L137.60,367.97 L138.10,367.66 L138.60,367.45 L139.10,367.22 L139.60,367.97 L140.10,367.48 L140.60,367.77 L141.10,368.02 L141.60,368.56 L142.10,368.14 L142.60,367.87 L143.10,368.26 L143.60,367.41 L144.10,367.42 L144.60,367.73 L145.10,367.43 L145.60,366.84 L146.10,366.96 L146.60,367.38 L147.10,366.40 L147.60,366.87 L148.10,365.77 L148.60,366.84 L149.10,366.25 L149.60,365.53 L150.10,366.22 L150.60,365.72 L151.10,364.44 L151.60,364.45 L152.10,364.54 L152.60,364.99 L153.10,363.54 L153.60,363.15 L154.10,363.25 L154.60,362.61 L155.10,362.84 L155.60,362.73 L156.10,362.30 L156.60,361.57 L157.10,361.09 L157.60,361.85 L158.10,361.00 L158.60,360.70 L159.10,360.34 L159.60,360.26 L160.10,360.18 L160.60,359.68 L161.10,359.14 L161.60,358.18 L162.10,357.53 L162.60,356.99 L163.10,357.63 L163.60,356.05 L164.10,356.30 L164.60,356.28 L165.10,354.92 L165.60,354.45 L166.10,353.90 L166.60,354.00 L167.10,352.98 L167.60,352.52 L168.10,350.72 L168.60,351.00 L169.10,349.91 L169.60,349.12 L170.10,348.96 L170.60,348.06 L171.10,347.44 L171.60,346.24 L172.10,345.41 L172.60,343.52 L173.10,342.30 L173.60,341.07 L174.10,338.89 L174.60,336.54 L175.10,335.09 L175.60,333.25 L176.10,330.66 L176.60,326.75 L177.10,324.30 L177.60,321.49 L178.10,318.95 L178.60,316.82 L179.10,312.94 L179.60,309.51 L180.10,305.95 L180.60,302.35 L181.10,298.58 L181.60,293.94 L182.10,289.43 L182.60,285.11 L183.10,280.79 L183.60,277.30 L184.10,271.89 L184.60,268.55 L185.10,263.74 L185.60,261.40 L186.10,258.40 L186.60,258.40 L187.10,259.06 L187.60,260.97 L188.10,264.22 L188.60,269.31 L189.10,273.71 L189.60,278.75 L190.10,283.87 L190.60,289.91 L191.10,295.37 L191.60,300.53 L192.10,306.98 L192.60,312.36 L193.10,319.18 L193.60,325.13 L194.10,331.57 L194.60,336.53 L195.10,342.96 L195.60,348.02 L196.10,353.11 L196.60,357.32 L197.10,360.51 L197.60,363.71 L198.10,366.59 L198.60,368.08 L199.10,370.36 L199.60,372.40 L200.10,373.67 L200.60,374.92 L201.10,376.50 L201.60,377.63 L202.10,377.48 L202.60,378.00 L203.10,379.47 L203.60,379.51 L204.10,381.31 L204.60,381.22 L205.10,381.85 L205.60,382.72 L206.10,383.22 L206.60,382.55 L207.10,383.29 L207.60,383.16 L208.10,383.78 L208.60,383.53 L209.10,384.77 L209.60,384.22 L210.10,384.44 L210.60,385.31 L211.10,385.36 L211.60,384.81 L212.10,385.17 L212.60,385.51 L213.10,384.94 L213.60,384.94 L214.10,386.00 L214.60,385.07 L215.10,385.88 L215.60,385.96 L216.10,385.80 L216.60,385.51 L217.10,386.28 L217.60,386.24 L218.10,385.30 L218.60,386.52 L219.10,386.21 L219.60,385.77 L220.10,385.64 L220.60,385.59 L221.10,386.62 L221.60,386.71 L222.10,386.04 L222.60,385.83 L223.10,385.71 L223.60,386.22 L224.10,386.08 L224.60,385.76 L225.10,386.13 L225.60,386.88 L226.10,385.85 L226.60,386.34 L227.10,386.52 L227.60,386.05 L228.10,385.89 L228.60,385.96 L229.10,386.08 L229.60,387.27 L230.10,387.13 L230.60,386.93 L231.10,387.22 L231.60,386.43 L232.10,386.35 L232.60,387.23 L233.10,386.88 L233.60,387.34 L234.10,386.57 L234.60,386.66 L235.10,387.11 L235.60,387.35 L236.10,386.37 L236.60,386.52 L237.10,386.18 L237.60,386.96 L238.10,387.49 L238.60,387.00 L239.10,386.43 L239.60,387.20 L240.10,387.16 L240.60,386.41 L241.10,387.56 L241.60,387.21 L242.10,386.99 L242.60,386.80 L243.10,386.55 L243.60,387.00 L244.10,386.86 L244.60,386.69 L245.10,387.28 L245.60,387.32" fill="none" stroke="#111" stroke-width="1.1" stroke-linejoin="round" stroke-linecap="round" />
<path d="M45.10,375.50 C46.75,375.45 51.83,375.35 55.00,375.20 C58.17,375.05 61.27,374.87 64.10,374.60 C66.93,374.33 69.23,374.00 72.00,373.60 C74.77,373.20 77.87,372.70 80.70,372.20 C83.53,371.70 86.25,371.17 89.00,370.60 C91.75,370.03 94.70,369.35 97.20,368.80 C99.70,368.25 101.78,367.77 104.00,367.30 C106.22,366.83 108.58,366.38 110.50,366.00 C112.42,365.62 113.85,365.25 115.50,365.00 C117.15,364.75 118.82,364.55 120.40,364.50 C121.98,364.45 123.42,364.53 125.00,364.70 C126.58,364.87 128.40,365.18 129.90,365.50 C131.40,365.82 132.33,366.20 134.00,366.60 C135.67,367.00 138.23,367.73 139.90,367.90 C141.57,368.07 142.63,367.85 144.00,367.60 C145.37,367.35 146.77,366.90 148.10,366.40 C149.43,365.90 150.62,365.30 152.00,364.60 C153.38,363.90 154.98,363.08 156.40,362.20 C157.82,361.32 159.12,360.40 160.50,359.30 C161.88,358.20 163.45,356.90 164.70,355.60 C165.95,354.30 166.90,353.02 168.00,351.50 C169.10,349.98 170.38,348.25 171.30,346.50 C172.22,344.75 172.80,343.22 173.50,341.00 C174.20,338.78 174.92,335.87 175.50,333.20 C176.08,330.53 176.53,327.53 177.00,325.00 C177.47,322.47 177.80,321.00 178.30,318.00 C178.80,315.00 179.47,310.83 180.00,307.00 C180.53,303.17 181.00,299.17 181.50,295.00 C182.00,290.83 182.50,286.33 183.00,282.00 C183.50,277.67 184.07,272.50 184.50,269.00 C184.93,265.50 185.27,262.83 185.60,261.00 C185.93,259.17 186.20,258.08 186.50,258.00 C186.80,257.92 187.07,258.83 187.40,260.50 C187.73,262.17 188.07,264.25 188.50,268.00 C188.93,271.75 189.50,277.67 190.00,283.00 C190.50,288.33 191.03,294.67 191.50,300.00 C191.97,305.33 192.38,310.00 192.80,315.00 C193.22,320.00 193.58,325.03 194.00,330.00 C194.42,334.97 194.88,340.47 195.30,344.80 C195.72,349.13 196.08,352.68 196.50,356.00 C196.92,359.32 197.33,362.20 197.80,364.70 C198.27,367.20 198.75,369.12 199.30,371.00 C199.85,372.88 200.38,374.50 201.10,376.00 C201.82,377.50 202.77,378.88 203.60,380.00 C204.43,381.12 205.20,382.00 206.10,382.70 C207.00,383.40 207.90,383.77 209.00,384.20 C210.10,384.63 211.47,385.05 212.70,385.30 C213.93,385.55 215.18,385.57 216.40,385.70 C217.62,385.83 218.58,385.98 220.00,386.10 C221.42,386.22 222.40,386.28 224.90,386.40 C227.40,386.52 231.50,386.68 235.00,386.80 C238.50,386.92 244.08,387.05 245.90,387.10" fill="none" stroke="#8f8f20" stroke-width="1.5" stroke-linejoin="round" stroke-linecap="round" />
<path d="M45.10,374.32 L45.60,374.53 L46.10,374.66 L46.60,375.60 L47.10,374.94 L47.60,375.29 L48.10,374.28 L48.60,374.92 L49.10,375.45 L49.60,374.92 L50.10,375.58 L50.60,375.47 L51.10,374.64 L51.60,374.03 L52.10,375.22 L52.60,374.20 L53.10,373.99 L53.60,375.13 L54.10,375.29 L54.60,375.26 L55.10,375.42 L55.60,374.19 L56.10,373.98 L56.60,374.01 L57.10,375.36 L57.60,373.95 L58.10,373.99 L58.60,373.74 L59.10,373.76 L59.60,373.71 L60.10,374.18 L60.60,373.84 L61.10,374.04 L61.60,375.00 L62.10,373.74 L62.60,374.73 L63.10,374.57 L63.60,374.25 L64.10,374.22 L64.60,374.48 L65.10,374.14 L65.60,373.51 L66.10,373.62 L66.60,373.42 L67.10,373.61 L67.60,374.49 L68.10,373.53 L68.60,372.89 L69.10,373.47 L69.60,373.94 L70.10,373.29 L70.60,373.63 L71.10,372.58 L71.60,372.46 L72.10,373.34 L72.60,372.29 L73.10,372.62 L73.60,372.68 L74.10,372.30 L74.60,371.97 L75.10,371.84 L75.60,373.28 L76.10,372.78 L76.60,373.12 L77.10,372.30 L77.60,372.96 L78.10,372.73 L78.60,372.25 L79.10,372.02 L79.60,371.91 L80.10,371.37 L80.60,371.52 L81.10,371.99 L81.60,371.05 L82.10,372.01 L82.60,371.37 L83.10,371.43 L83.60,371.68 L84.10,371.31 L84.60,370.40 L85.10,370.48 L85.60,369.99 L86.10,369.93 L86.60,371.31 L87.10,370.64 L87.60,371.14 L88.10,370.73 L88.60,369.89 L89.10,370.83 L89.60,370.65 L90.10,369.80 L90.60,369.10 L91.10,369.36 L91.60,369.01 L92.10,369.22 L92.60,368.66 L93.10,369.56 L93.60,369.87 L94.10,368.53 L94.60,369.33 L95.10,368.90 L95.60,368.63 L96.10,369.20 L96.60,368.24 L97.10,368.84 L97.60,367.47 L98.10,368.85 L98.60,367.48 L99.10,367.08 L99.60,368.38 L100.10,368.01 L100.60,367.82 L101.10,367.86 L101.60,367.12 L102.10,366.59 L102.60,366.81 L103.10,367.72 L103.60,367.66 L104.10,366.35 L104.60,366.58 L105.10,366.49 L105.60,367.12 L106.10,365.58 L106.60,366.80 L107.10,365.78 L107.60,366.15 L108.10,365.38 L108.60,365.21 L109.10,366.39 L109.60,365.68 L110.10,366.33 L110.60,366.06 L111.10,365.78 L111.60,364.59 L112.10,365.31 L112.60,365.84 L113.10,364.95 L113.60,364.15 L114.10,364.24 L114.60,365.43 L115.10,365.33 L115.60,364.08 L116.10,364.12 L116.60,364.69 L117.10,364.29 L117.60,363.71 L118.10,364.94 L118.60,364.31 L119.10,363.86 L119.60,363.27 L120.10,364.03 L120.60,364.40 L121.10,363.47 L121.60,363.33 L122.10,364.36 L122.60,364.69 L123.10,363.84 L123.60,364.03 L124.10,364.33 L124.60,364.19 L125.10,363.62 L125.60,363.91 L126.10,363.86 L126.60,363.92 L127.10,363.82 L127.60,364.39 L128.10,364.20 L128.60,365.30 L129.10,364.55 L129.60,365.68 L130.10,365.54 L130.60,364.79 L131.10,364.74 L131.60,365.55 L132.10,365.54 L132.60,365.78 L133.10,365.27 L133.60,366.05 L134.10,366.54 L134.60,366.16 L135.10,365.98 L135.60,367.18 L136.10,366.30 L136.60,367.54 L137.10,367.17 L137.60,366.19 L138.10,367.01 L138.60,366.64 L139.10,367.75 L139.60,367.24 L140.10,366.75 L140.60,368.17 L141.10,367.94 L141.60,367.61 L142.10,367.51 L142.60,366.66 L143.10,368.03 L143.60,366.86 L144.10,367.12 L144.60,366.96 L145.10,366.81 L145.60,365.96 L146.10,367.21 L146.60,366.41 L147.10,366.09 L147.60,366.66 L148.10,366.48 L148.60,366.05 L149.10,366.15 L149.60,365.03 L150.10,364.41 L150.60,364.56 L151.10,364.72 L151.60,364.76 L152.10,364.42 L152.60,364.00 L153.10,363.70 L153.60,363.55 L154.10,363.13 L154.60,361.97 L155.10,362.54 L155.60,361.82 L156.10,361.20 L156.60,361.75 L157.10,361.80 L157.60,360.58 L158.10,360.86 L158.60,360.43 L159.10,360.16 L159.60,360.09 L160.10,359.43 L160.60,358.05 L161.10,358.51 L161.60,357.67 L162.10,357.36 L162.60,357.35 L163.10,356.11 L163.60,356.38 L164.10,356.40 L164.60,354.52 L165.10,355.24 L165.60,354.44 L166.10,353.36 L166.60,353.31 L167.10,351.55 L167.60,351.01 L168.10,351.66 L168.60,350.37 L169.10,348.94 L169.60,348.17 L170.10,347.93 L170.60,347.30 L171.10,347.15 L171.60,344.91 L172.10,344.55 L172.60,343.02 L173.10,341.82 L173.60,340.88 L174.10,337.84 L174.60,337.08 L175.10,334.84 L175.60,331.86" fill="none" stroke="#111" stroke-width="1.0" stroke-linejoin="round" stroke-linecap="round" stroke-dasharray="1.5 1.2"/>
<path d="M199.10,369.78 L199.60,371.83 L200.10,372.67 L200.60,374.14 L201.10,374.83 L201.60,375.73 L202.10,376.93 L202.60,378.65 L203.10,378.11 L203.60,378.94 L204.10,379.99 L204.60,381.50 L205.10,380.85 L205.60,381.05 L206.10,381.48 L206.60,382.31 L207.10,382.06 L207.60,383.38 L208.10,382.63 L208.60,383.04 L209.10,383.06 L209.60,383.56 L210.10,383.44 L210.60,383.72 L211.10,383.92 L211.60,384.12 L212.10,384.88 L212.60,384.57 L213.10,384.40 L213.60,384.16 L214.10,385.59 L214.60,385.61 L215.10,385.80 L215.60,385.46 L216.10,385.06 L216.60,384.95 L217.10,384.79 L217.60,385.25 L218.10,385.27 L218.60,386.16 L219.10,385.04 L219.60,385.88 L220.10,385.98 L220.60,385.90 L221.10,385.87 L221.60,384.99 L222.10,385.19 L222.60,385.81 L223.10,385.98 L223.60,386.58 L224.10,386.32 L224.60,385.43 L225.10,385.35 L225.60,386.37 L226.10,385.17 L226.60,386.64 L227.10,385.34 L227.60,386.18 L228.10,386.59 L228.60,385.40 L229.10,385.44 L229.60,386.31 L230.10,386.47 L230.60,385.36 L231.10,386.11 L231.60,386.65 L232.10,386.64 L232.60,386.04 L233.10,385.45 L233.60,386.44 L234.10,386.33 L234.60,386.16 L235.10,386.46 L235.60,386.45 L236.10,386.31 L236.60,386.43 L237.10,386.46 L237.60,386.81 L238.10,386.86 L238.60,385.64 L239.10,386.88 L239.60,386.02 L240.10,386.32 L240.60,386.01 L241.10,386.17 L241.60,386.33 L242.10,386.43 L242.60,385.88 L243.10,386.20 L243.60,386.47 L244.10,386.37 L244.60,386.61 L245.10,385.89 L245.60,386.69" fill="none" stroke="#111" stroke-width="1.0" stroke-linejoin="round" stroke-linecap="round" stroke-dasharray="1.5 1.2"/>
<text x="160.8" y="278.2" font-family="Liberation Serif" font-size="17.0" fill="#000" text-anchor="start" >C</text>
<text x="172.6" y="282.6" font-family="Liberation Serif" font-size="11.5" fill="#000" text-anchor="start" >1</text>
<line x1="170.6" y1="282.6" x2="181.0" y2="297.2" stroke="#111" stroke-width="0.8"/>
<path d="M181.00,297.20 L178.00,295.41 L180.28,293.78 Z" fill="#111"/>
<text x="148.8" y="333.2" font-family="Liberation Serif" font-size="17.0" fill="#000" text-anchor="start" >C</text>
<text x="160.2" y="337.4" font-family="Liberation Serif" font-size="11.5" fill="#000" text-anchor="start" >2</text>
<line x1="161.4" y1="344.0" x2="172.0" y2="358.5" stroke="#111" stroke-width="0.8"/>
<path d="M172.00,358.50 L168.98,356.74 L171.24,355.09 Z" fill="#111"/>
<text x="139.0" y="351.5" font-family="Liberation Serif" font-size="17.0" fill="#000" text-anchor="start" >C</text>
<text x="150.2" y="356.4" font-family="Liberation Serif" font-size="11.5" fill="#000" text-anchor="start" >3</text>
<line x1="147.3" y1="358.9" x2="157.0" y2="364.6" stroke="#111" stroke-width="0.8"/>
<path d="M157.00,364.60 L153.53,364.19 L154.95,361.77 Z" fill="#111"/>
<text x="100.4" y="352.3" font-family="Liberation Serif" font-size="17.0" fill="#000" text-anchor="start" >C</text>
<text x="112.6" y="357.3" font-family="Liberation Serif" font-size="11.5" fill="#000" text-anchor="start" >4</text>
<line x1="109.6" y1="357.3" x2="111.2" y2="366.2" stroke="#111" stroke-width="0.8"/>
<path d="M111.20,366.20 L109.26,363.30 L112.01,362.80 Z" fill="#111"/>
<text x="216.3" y="252.6" font-family="Liberation Serif" font-size="21.2" fill="#000" text-anchor="start" >C</text>
<text x="231.0" y="257.8" font-family="Liberation Serif" font-size="14.3" fill="#000" text-anchor="start" >1s</text>
<path d="M259.10,368.27h1.8v1.8h-1.8zM259.59,378.50h2.0v2.0h-2.0zM260.46,370.28h1.6v1.6h-1.6zM260.48,392.82h2.0v2.0h-2.0zM261.72,397.73h2.0v2.0h-2.0zM260.92,376.31h1.8v1.8h-1.8zM262.31,370.94h1.6v1.6h-1.6zM261.89,371.07h1.8v1.8h-1.8zM263.17,376.86h1.6v1.6h-1.6zM262.95,389.17h1.6v1.6h-1.6zM264.03,386.48h1.6v1.6h-1.6zM263.17,365.49h1.6v1.6h-1.6zM264.73,368.45h1.6v1.6h-1.6zM264.02,369.39h1.6v1.6h-1.6zM265.00,375.09h1.8v1.8h-1.8zM264.49,374.51h1.6v1.6h-1.6zM265.29,357.74h2.0v2.0h-2.0zM265.12,377.50h1.6v1.6h-1.6zM265.89,368.34h1.6v1.6h-1.6zM266.58,365.99h2.0v2.0h-2.0zM266.78,385.01h2.0v2.0h-2.0zM267.50,361.41h1.8v1.8h-1.8zM267.98,373.16h1.6v1.6h-1.6zM268.63,359.49h1.6v1.6h-1.6zM268.96,365.92h1.8v1.8h-1.8zM268.19,381.57h2.0v2.0h-2.0zM269.06,376.78h2.0v2.0h-2.0zM269.12,387.91h2.0v2.0h-2.0zM270.30,385.62h1.6v1.6h-1.6zM270.08,362.08h1.6v1.6h-1.6zM270.01,379.34h1.6v1.6h-1.6zM270.59,386.51h2.0v2.0h-2.0zM271.32,369.62h1.6v1.6h-1.6zM271.50,379.38h1.8v1.8h-1.8zM271.91,370.10h1.8v1.8h-1.8zM272.38,360.67h1.8v1.8h-1.8zM272.59,352.82h2.0v2.0h-2.0zM272.45,360.27h1.6v1.6h-1.6zM272.58,398.10h2.0v2.0h-2.0zM273.25,368.59h1.8v1.8h-1.8zM274.28,354.21h1.8v1.8h-1.8zM273.32,386.62h1.8v1.8h-1.8zM274.28,382.51h2.0v2.0h-2.0zM274.44,355.15h1.8v1.8h-1.8zM275.44,370.11h2.0v2.0h-2.0zM275.37,365.87h1.8v1.8h-1.8zM276.03,368.89h2.0v2.0h-2.0zM276.43,373.33h1.6v1.6h-1.6zM276.88,391.04h2.0v2.0h-2.0zM276.47,372.47h1.8v1.8h-1.8zM277.94,368.40h1.6v1.6h-1.6zM277.10,377.08h2.0v2.0h-2.0zM278.29,381.08h1.6v1.6h-1.6zM277.94,384.12h1.8v1.8h-1.8zM278.76,360.81h2.0v2.0h-2.0zM278.69,367.98h2.0v2.0h-2.0zM279.21,365.76h2.0v2.0h-2.0zM280.00,371.71h1.6v1.6h-1.6zM280.61,371.28h1.8v1.8h-1.8zM279.84,376.21h1.8v1.8h-1.8zM281.37,369.03h1.8v1.8h-1.8zM281.17,374.27h2.0v2.0h-2.0zM281.50,372.90h1.8v1.8h-1.8zM281.25,367.68h1.8v1.8h-1.8zM282.65,373.94h1.8v1.8h-1.8zM282.01,375.24h1.8v1.8h-1.8zM282.81,374.73h2.0v2.0h-2.0zM282.45,371.78h1.6v1.6h-1.6zM284.28,379.07h1.8v1.8h-1.8zM283.68,369.44h1.6v1.6h-1.6zM285.06,383.04h1.8v1.8h-1.8zM284.72,358.75h1.8v1.8h-1.8zM285.66,359.35h1.6v1.6h-1.6zM286.06,360.46h1.6v1.6h-1.6zM285.94,378.64h2.0v2.0h-2.0zM286.26,371.99h1.8v1.8h-1.8zM286.61,375.39h1.8v1.8h-1.8zM287.69,364.26h1.8v1.8h-1.8zM287.94,379.45h1.8v1.8h-1.8zM287.86,361.64h1.6v1.6h-1.6zM288.56,373.55h1.8v1.8h-1.8zM288.55,357.19h1.6v1.6h-1.6zM288.70,382.90h1.8v1.8h-1.8zM289.18,375.33h1.6v1.6h-1.6zM290.39,359.54h1.6v1.6h-1.6zM290.61,365.78h2.0v2.0h-2.0zM290.65,357.83h2.0v2.0h-2.0zM291.07,378.16h2.0v2.0h-2.0zM291.54,370.59h1.6v1.6h-1.6zM290.64,354.39h2.0v2.0h-2.0zM291.65,359.52h1.6v1.6h-1.6zM291.51,372.80h2.0v2.0h-2.0zM293.08,385.92h2.0v2.0h-2.0zM292.63,361.27h1.8v1.8h-1.8zM293.98,352.20h2.0v2.0h-2.0zM293.71,387.47h1.6v1.6h-1.6zM294.91,367.61h1.8v1.8h-1.8zM294.68,375.35h1.8v1.8h-1.8zM294.66,379.36h2.0v2.0h-2.0zM294.57,375.42h1.8v1.8h-1.8zM296.49,365.32h1.6v1.6h-1.6zM296.62,375.47h1.6v1.6h-1.6zM296.12,353.53h1.6v1.6h-1.6zM296.69,359.88h1.6v1.6h-1.6zM298.10,365.80h1.8v1.8h-1.8zM297.21,364.92h1.6v1.6h-1.6zM298.38,360.90h1.6v1.6h-1.6zM298.35,391.41h1.6v1.6h-1.6zM298.36,367.96h2.0v2.0h-2.0zM299.27,375.07h1.8v1.8h-1.8zM299.40,358.69h1.8v1.8h-1.8zM299.11,369.02h1.6v1.6h-1.6zM299.99,373.87h1.6v1.6h-1.6zM300.58,376.37h1.8v1.8h-1.8zM300.41,364.73h1.8v1.8h-1.8zM301.09,371.50h1.8v1.8h-1.8zM301.41,381.52h1.8v1.8h-1.8zM301.57,367.83h2.0v2.0h-2.0zM302.37,363.64h1.8v1.8h-1.8zM301.80,368.73h1.6v1.6h-1.6zM302.99,374.82h1.6v1.6h-1.6zM302.35,378.57h1.8v1.8h-1.8zM303.54,375.10h1.8v1.8h-1.8zM303.41,390.20h1.8v1.8h-1.8zM304.60,363.69h2.0v2.0h-2.0zM304.44,375.94h1.8v1.8h-1.8zM304.71,360.08h1.8v1.8h-1.8zM305.36,353.22h1.8v1.8h-1.8zM306.24,367.91h1.8v1.8h-1.8zM305.85,363.40h1.6v1.6h-1.6zM307.28,355.30h1.6v1.6h-1.6zM307.32,369.26h2.0v2.0h-2.0zM307.30,370.03h2.0v2.0h-2.0zM307.66,368.30h2.0v2.0h-2.0zM309.27,351.70h1.8v1.8h-1.8zM309.07,363.25h1.8v1.8h-1.8zM309.45,365.35h1.6v1.6h-1.6zM308.77,368.58h2.0v2.0h-2.0zM310.01,370.40h1.6v1.6h-1.6zM310.10,350.07h2.0v2.0h-2.0zM310.91,344.57h1.8v1.8h-1.8zM310.38,341.08h2.0v2.0h-2.0zM311.68,360.47h2.0v2.0h-2.0zM311.13,360.40h1.6v1.6h-1.6zM311.90,366.12h1.6v1.6h-1.6zM311.62,343.16h1.6v1.6h-1.6zM312.04,366.40h1.8v1.8h-1.8zM312.42,363.54h2.0v2.0h-2.0zM314.04,370.60h1.8v1.8h-1.8zM313.33,360.29h1.8v1.8h-1.8zM313.84,373.53h1.8v1.8h-1.8zM314.75,359.47h1.6v1.6h-1.6zM315.27,349.97h2.0v2.0h-2.0zM314.57,365.39h1.6v1.6h-1.6zM315.55,385.16h1.8v1.8h-1.8zM314.72,366.03h2.0v2.0h-2.0zM316.60,355.80h1.8v1.8h-1.8zM316.46,354.42h1.6v1.6h-1.6zM316.36,353.04h1.6v1.6h-1.6zM316.74,348.41h1.6v1.6h-1.6zM317.75,365.83h1.8v1.8h-1.8zM317.89,367.04h2.0v2.0h-2.0zM318.75,359.23h1.8v1.8h-1.8zM318.36,355.81h2.0v2.0h-2.0zM318.64,350.22h2.0v2.0h-2.0zM318.99,348.25h1.8v1.8h-1.8zM319.75,355.47h2.0v2.0h-2.0zM319.71,365.05h2.0v2.0h-2.0zM320.48,387.21h1.6v1.6h-1.6zM320.74,355.41h2.0v2.0h-2.0zM320.48,343.50h2.0v2.0h-2.0zM320.57,385.71h2.0v2.0h-2.0zM321.70,344.48h1.8v1.8h-1.8zM320.93,348.78h1.8v1.8h-1.8zM322.61,362.06h1.6v1.6h-1.6zM322.67,379.08h1.6v1.6h-1.6zM323.35,361.37h1.6v1.6h-1.6zM322.80,343.73h2.0v2.0h-2.0zM324.08,344.94h1.6v1.6h-1.6zM323.29,372.28h1.8v1.8h-1.8zM324.16,360.06h1.6v1.6h-1.6zM324.65,358.46h2.0v2.0h-2.0zM324.90,345.45h2.0v2.0h-2.0zM324.93,365.92h2.0v2.0h-2.0zM324.86,384.48h2.0v2.0h-2.0zM325.57,346.01h1.6v1.6h-1.6zM325.85,367.39h2.0v2.0h-2.0zM326.37,359.77h1.6v1.6h-1.6zM326.65,356.69h1.6v1.6h-1.6zM327.43,349.15h1.6v1.6h-1.6zM327.50,360.07h2.0v2.0h-2.0zM327.36,380.77h2.0v2.0h-2.0zM328.17,371.60h2.0v2.0h-2.0zM327.74,368.90h2.0v2.0h-2.0zM329.22,351.51h2.0v2.0h-2.0zM328.58,364.88h1.6v1.6h-1.6zM328.94,375.54h1.6v1.6h-1.6zM329.71,355.03h2.0v2.0h-2.0zM330.58,361.57h1.6v1.6h-1.6zM330.96,369.60h2.0v2.0h-2.0zM331.39,366.33h2.0v2.0h-2.0zM331.50,375.83h2.0v2.0h-2.0zM332.26,359.98h1.8v1.8h-1.8zM332.41,362.58h1.6v1.6h-1.6zM332.24,349.38h1.8v1.8h-1.8zM332.40,362.37h1.6v1.6h-1.6zM334.05,365.71h2.0v2.0h-2.0zM333.66,351.94h1.6v1.6h-1.6zM334.48,360.00h1.6v1.6h-1.6zM334.38,352.19h2.0v2.0h-2.0zM334.84,355.71h1.8v1.8h-1.8zM335.08,350.85h1.8v1.8h-1.8zM336.18,346.26h1.6v1.6h-1.6zM335.98,372.73h1.8v1.8h-1.8zM336.56,355.60h1.6v1.6h-1.6zM337.06,377.58h1.8v1.8h-1.8zM337.63,372.61h2.0v2.0h-2.0zM336.84,352.88h1.6v1.6h-1.6zM338.31,361.08h2.0v2.0h-2.0zM338.56,353.63h2.0v2.0h-2.0zM338.47,367.42h1.6v1.6h-1.6zM338.40,377.96h1.8v1.8h-1.8zM339.19,343.70h2.0v2.0h-2.0zM339.93,359.27h1.6v1.6h-1.6zM339.96,346.10h2.0v2.0h-2.0zM339.78,376.24h1.6v1.6h-1.6zM340.65,345.39h1.8v1.8h-1.8zM341.07,367.15h1.8v1.8h-1.8zM341.68,353.67h2.0v2.0h-2.0zM341.22,375.50h1.6v1.6h-1.6zM343.10,345.53h1.6v1.6h-1.6zM342.92,355.54h1.8v1.8h-1.8zM343.19,342.21h1.6v1.6h-1.6zM342.69,344.54h1.6v1.6h-1.6zM343.81,363.60h1.6v1.6h-1.6zM343.76,353.21h2.0v2.0h-2.0zM344.65,364.46h1.6v1.6h-1.6zM344.45,345.73h1.6v1.6h-1.6zM345.37,353.03h2.0v2.0h-2.0zM345.26,363.39h1.8v1.8h-1.8zM345.90,349.60h1.6v1.6h-1.6zM346.36,362.92h2.0v2.0h-2.0zM347.23,351.03h1.6v1.6h-1.6zM346.82,349.75h2.0v2.0h-2.0zM347.40,351.34h1.6v1.6h-1.6zM347.88,344.68h1.6v1.6h-1.6zM349.11,358.42h1.6v1.6h-1.6zM348.54,356.29h2.0v2.0h-2.0zM349.65,346.15h2.0v2.0h-2.0zM349.15,358.29h1.8v1.8h-1.8zM350.44,356.22h1.8v1.8h-1.8zM350.01,347.13h1.8v1.8h-1.8zM350.38,365.50h2.0v2.0h-2.0zM350.54,353.39h1.6v1.6h-1.6zM351.27,359.59h2.0v2.0h-2.0zM351.32,355.60h1.6v1.6h-1.6zM351.47,349.90h2.0v2.0h-2.0zM352.47,366.40h1.8v1.8h-1.8zM352.47,349.94h1.8v1.8h-1.8zM352.23,349.32h1.8v1.8h-1.8zM353.95,353.72h1.8v1.8h-1.8zM353.15,349.95h1.6v1.6h-1.6zM354.55,358.53h1.6v1.6h-1.6zM354.99,349.74h2.0v2.0h-2.0zM355.41,351.30h2.0v2.0h-2.0zM355.22,347.67h1.8v1.8h-1.8zM355.91,351.91h1.6v1.6h-1.6zM355.50,343.94h2.0v2.0h-2.0zM356.20,336.67h1.6v1.6h-1.6zM356.10,346.41h1.6v1.6h-1.6zM357.05,357.46h2.0v2.0h-2.0zM357.02,347.21h2.0v2.0h-2.0zM357.66,337.55h2.0v2.0h-2.0zM357.79,350.26h1.8v1.8h-1.8zM359.01,356.61h2.0v2.0h-2.0zM358.02,348.48h1.8v1.8h-1.8zM359.46,338.61h1.8v1.8h-1.8zM359.18,346.54h1.6v1.6h-1.6zM359.44,343.98h2.0v2.0h-2.0zM359.38,332.52h2.0v2.0h-2.0zM360.94,349.53h1.6v1.6h-1.6zM360.75,335.17h1.8v1.8h-1.8zM361.09,348.97h1.8v1.8h-1.8zM361.15,346.33h2.0v2.0h-2.0zM361.65,334.21h2.0v2.0h-2.0zM361.56,336.96h1.6v1.6h-1.6zM363.36,336.63h1.8v1.8h-1.8zM362.87,335.05h1.8v1.8h-1.8zM364.57,337.39h1.8v1.8h-1.8zM363.54,336.19h1.8v1.8h-1.8zM365.14,338.52h1.6v1.6h-1.6zM365.14,343.20h2.0v2.0h-2.0zM364.99,329.14h1.8v1.8h-1.8zM364.83,325.30h1.6v1.6h-1.6zM366.30,336.97h1.6v1.6h-1.6zM366.32,339.42h1.6v1.6h-1.6zM367.16,328.92h1.6v1.6h-1.6zM366.29,336.53h2.0v2.0h-2.0zM367.69,334.15h2.0v2.0h-2.0zM366.88,331.66h1.8v1.8h-1.8zM367.88,319.77h2.0v2.0h-2.0zM368.35,330.63h1.6v1.6h-1.6zM368.18,327.94h2.0v2.0h-2.0zM368.61,335.15h2.0v2.0h-2.0zM369.34,328.04h1.6v1.6h-1.6zM369.77,325.10h1.6v1.6h-1.6zM370.80,319.67h1.6v1.6h-1.6zM370.07,319.55h2.0v2.0h-2.0zM370.73,314.05h1.6v1.6h-1.6zM371.23,314.61h2.0v2.0h-2.0zM371.44,319.65h1.8v1.8h-1.8zM371.53,318.19h1.8v1.8h-1.8zM372.61,307.51h1.8v1.8h-1.8zM373.15,312.85h2.0v2.0h-2.0zM372.89,311.14h1.8v1.8h-1.8zM373.28,297.43h1.6v1.6h-1.6zM374.42,302.81h1.8v1.8h-1.8zM374.31,297.59h2.0v2.0h-2.0zM374.83,299.59h1.6v1.6h-1.6zM375.51,290.39h1.8v1.8h-1.8zM375.62,284.20h2.0v2.0h-2.0zM375.87,283.85h1.8v1.8h-1.8zM377.42,276.71h1.8v1.8h-1.8zM377.13,279.94h1.8v1.8h-1.8zM377.60,274.21h1.8v1.8h-1.8zM377.91,276.45h2.0v2.0h-2.0zM379.01,266.40h1.6v1.6h-1.6zM379.40,265.05h2.0v2.0h-2.0zM379.42,265.16h1.8v1.8h-1.8zM379.72,270.57h1.6v1.6h-1.6zM380.08,259.28h1.8v1.8h-1.8zM381.08,267.86h1.8v1.8h-1.8zM381.54,265.99h2.0v2.0h-2.0zM381.45,252.50h2.0v2.0h-2.0zM382.50,268.02h2.0v2.0h-2.0zM382.12,247.52h1.6v1.6h-1.6zM383.79,267.10h2.0v2.0h-2.0zM382.89,252.71h2.0v2.0h-2.0zM384.04,263.86h1.8v1.8h-1.8zM383.79,267.34h1.6v1.6h-1.6zM384.68,259.66h1.8v1.8h-1.8zM384.39,266.74h2.0v2.0h-2.0zM385.55,274.43h1.8v1.8h-1.8zM385.88,270.16h1.6v1.6h-1.6zM386.35,273.47h2.0v2.0h-2.0zM386.44,275.16h2.0v2.0h-2.0zM386.73,276.59h1.8v1.8h-1.8zM386.77,268.67h2.0v2.0h-2.0zM388.03,272.84h2.0v2.0h-2.0zM387.51,275.87h1.6v1.6h-1.6zM389.10,268.81h2.0v2.0h-2.0zM388.28,276.88h2.0v2.0h-2.0zM389.52,281.98h1.8v1.8h-1.8zM389.18,283.35h1.8v1.8h-1.8zM390.53,278.14h1.6v1.6h-1.6zM389.76,264.74h1.8v1.8h-1.8zM391.57,286.49h1.8v1.8h-1.8zM390.40,278.13h2.0v2.0h-2.0zM392.10,284.29h2.0v2.0h-2.0zM391.74,282.42h1.8v1.8h-1.8zM392.10,283.62h2.0v2.0h-2.0zM392.25,283.17h2.0v2.0h-2.0zM393.43,288.60h1.6v1.6h-1.6zM392.93,293.04h1.8v1.8h-1.8zM393.81,293.25h1.8v1.8h-1.8zM393.75,283.94h1.8v1.8h-1.8zM393.83,292.76h2.0v2.0h-2.0zM394.90,297.42h2.0v2.0h-2.0zM395.38,298.53h1.8v1.8h-1.8zM395.40,287.46h2.0v2.0h-2.0zM395.75,302.22h1.8v1.8h-1.8zM396.35,299.67h1.8v1.8h-1.8zM397.45,303.27h1.6v1.6h-1.6zM396.67,295.36h1.8v1.8h-1.8zM397.66,305.91h1.8v1.8h-1.8zM398.13,293.63h2.0v2.0h-2.0zM397.76,301.11h1.8v1.8h-1.8zM397.73,300.95h1.6v1.6h-1.6zM398.27,311.61h1.6v1.6h-1.6zM399.05,303.00h1.8v1.8h-1.8zM400.03,306.48h1.6v1.6h-1.6zM399.11,298.38h1.6v1.6h-1.6zM400.21,313.62h1.6v1.6h-1.6zM400.14,318.85h2.0v2.0h-2.0zM401.37,309.60h2.0v2.0h-2.0zM400.79,307.46h1.8v1.8h-1.8zM402.10,318.65h1.8v1.8h-1.8zM402.27,325.38h2.0v2.0h-2.0zM402.71,322.38h2.0v2.0h-2.0zM403.25,316.98h2.0v2.0h-2.0zM403.25,314.14h1.8v1.8h-1.8zM403.53,328.86h1.8v1.8h-1.8zM403.87,316.91h2.0v2.0h-2.0zM403.87,324.52h2.0v2.0h-2.0zM405.18,324.13h1.8v1.8h-1.8zM404.62,327.13h2.0v2.0h-2.0zM405.53,329.47h1.6v1.6h-1.6zM406.31,336.39h1.6v1.6h-1.6zM406.56,329.13h1.8v1.8h-1.8zM406.96,323.26h1.6v1.6h-1.6zM407.14,338.10h1.6v1.6h-1.6zM407.13,333.65h1.6v1.6h-1.6zM407.98,344.24h2.0v2.0h-2.0zM408.52,340.80h1.8v1.8h-1.8zM408.45,342.53h2.0v2.0h-2.0zM409.12,336.17h2.0v2.0h-2.0zM409.32,345.32h2.0v2.0h-2.0zM408.86,329.58h1.8v1.8h-1.8zM409.74,342.36h2.0v2.0h-2.0zM409.65,354.41h1.6v1.6h-1.6zM410.55,348.66h1.6v1.6h-1.6zM410.65,340.70h1.6v1.6h-1.6zM411.76,340.78h1.6v1.6h-1.6zM411.28,352.67h1.6v1.6h-1.6zM412.44,337.36h1.6v1.6h-1.6zM412.36,340.28h1.6v1.6h-1.6zM412.52,348.98h1.8v1.8h-1.8zM412.91,343.06h1.6v1.6h-1.6zM413.09,344.29h1.6v1.6h-1.6zM413.85,333.76h2.0v2.0h-2.0zM414.87,357.91h1.8v1.8h-1.8zM414.45,354.47h1.8v1.8h-1.8zM415.15,350.45h2.0v2.0h-2.0zM415.71,340.07h2.0v2.0h-2.0zM415.73,356.86h2.0v2.0h-2.0zM415.65,359.35h2.0v2.0h-2.0zM416.56,357.33h1.6v1.6h-1.6zM416.91,353.94h2.0v2.0h-2.0zM417.95,351.19h1.6v1.6h-1.6zM417.59,349.33h1.6v1.6h-1.6zM418.38,348.75h2.0v2.0h-2.0zM418.83,353.26h1.6v1.6h-1.6zM419.64,357.17h1.8v1.8h-1.8zM418.88,355.54h2.0v2.0h-2.0zM419.61,344.43h1.8v1.8h-1.8zM419.74,362.34h2.0v2.0h-2.0zM421.07,358.46h2.0v2.0h-2.0zM420.74,346.47h2.0v2.0h-2.0zM421.73,355.18h1.8v1.8h-1.8zM421.26,334.34h2.0v2.0h-2.0zM422.29,355.96h2.0v2.0h-2.0zM422.62,352.28h2.0v2.0h-2.0zM422.76,361.49h1.8v1.8h-1.8zM423.07,338.31h1.6v1.6h-1.6zM423.61,360.21h1.8v1.8h-1.8zM423.40,357.45h2.0v2.0h-2.0zM425.11,349.18h2.0v2.0h-2.0zM424.96,345.05h2.0v2.0h-2.0zM425.03,350.40h1.8v1.8h-1.8zM426.06,344.32h2.0v2.0h-2.0zM426.48,363.91h1.6v1.6h-1.6zM425.86,346.59h2.0v2.0h-2.0zM427.07,356.69h1.6v1.6h-1.6zM426.60,354.38h1.6v1.6h-1.6zM428.00,361.60h2.0v2.0h-2.0zM427.70,357.00h1.8v1.8h-1.8zM428.10,349.78h2.0v2.0h-2.0zM428.94,353.14h1.8v1.8h-1.8zM429.27,358.03h1.6v1.6h-1.6zM429.35,351.94h1.6v1.6h-1.6zM429.67,360.23h1.8v1.8h-1.8zM429.04,353.19h1.8v1.8h-1.8zM430.12,363.77h1.8v1.8h-1.8zM430.84,351.58h1.8v1.8h-1.8zM431.68,367.56h1.8v1.8h-1.8zM431.70,365.01h2.0v2.0h-2.0zM431.65,362.08h1.6v1.6h-1.6zM432.44,352.53h1.8v1.8h-1.8zM432.98,366.11h1.6v1.6h-1.6zM432.79,347.05h1.8v1.8h-1.8zM433.65,362.50h2.0v2.0h-2.0zM434.06,349.23h1.6v1.6h-1.6zM434.96,352.06h1.8v1.8h-1.8zM434.34,361.14h2.0v2.0h-2.0zM434.61,358.60h1.6v1.6h-1.6zM435.75,345.23h1.8v1.8h-1.8zM435.35,343.95h1.8v1.8h-1.8zM435.24,352.75h1.8v1.8h-1.8zM436.57,333.80h1.6v1.6h-1.6zM436.69,337.82h1.6v1.6h-1.6zM436.49,332.82h1.6v1.6h-1.6zM437.23,368.94h1.8v1.8h-1.8zM437.63,362.29h1.8v1.8h-1.8zM437.09,348.52h2.0v2.0h-2.0zM438.22,361.67h1.8v1.8h-1.8zM437.91,342.55h2.0v2.0h-2.0zM438.93,352.99h1.6v1.6h-1.6zM439.45,358.98h2.0v2.0h-2.0zM440.31,351.73h2.0v2.0h-2.0zM440.07,358.91h2.0v2.0h-2.0zM440.93,346.26h1.8v1.8h-1.8zM441.00,355.02h1.6v1.6h-1.6zM440.83,370.33h1.8v1.8h-1.8zM441.68,380.93h1.6v1.6h-1.6zM442.52,362.02h1.8v1.8h-1.8zM442.26,361.69h1.6v1.6h-1.6zM443.08,344.93h1.6v1.6h-1.6zM442.65,353.03h1.8v1.8h-1.8zM444.22,362.20h1.8v1.8h-1.8zM443.77,342.38h1.6v1.6h-1.6zM445.02,351.73h2.0v2.0h-2.0zM444.47,354.37h2.0v2.0h-2.0zM445.18,354.74h2.0v2.0h-2.0zM445.51,326.10h1.8v1.8h-1.8zM446.34,359.65h1.6v1.6h-1.6zM446.16,371.26h1.8v1.8h-1.8zM447.15,355.10h2.0v2.0h-2.0zM446.15,350.53h1.8v1.8h-1.8zM447.39,353.37h1.8v1.8h-1.8zM447.96,362.67h1.6v1.6h-1.6zM448.93,356.04h1.6v1.6h-1.6zM448.15,354.84h1.8v1.8h-1.8zM449.21,348.70h1.6v1.6h-1.6zM449.33,358.28h1.6v1.6h-1.6zM449.70,361.66h1.6v1.6h-1.6zM449.59,377.59h2.0v2.0h-2.0zM450.54,334.25h2.0v2.0h-2.0zM450.19,348.91h2.0v2.0h-2.0zM451.35,361.85h1.8v1.8h-1.8zM450.81,374.79h1.8v1.8h-1.8zM452.29,364.31h2.0v2.0h-2.0zM452.27,351.98h1.6v1.6h-1.6zM453.49,355.19h1.6v1.6h-1.6zM453.45,348.26h2.0v2.0h-2.0zM454.33,359.97h1.6v1.6h-1.6zM453.69,357.49h1.8v1.8h-1.8zM454.07,342.37h1.8v1.8h-1.8zM455.20,363.13h1.6v1.6h-1.6zM455.05,358.67h2.0v2.0h-2.0zM455.72,352.56h1.6v1.6h-1.6zM456.00,361.26h2.0v2.0h-2.0zM456.44,362.42h1.8v1.8h-1.8zM456.87,343.87h1.8v1.8h-1.8zM457.11,360.01h2.0v2.0h-2.0zM457.36,354.85h1.6v1.6h-1.6zM457.19,352.66h2.0v2.0h-2.0zM459.18,356.66h2.0v2.0h-2.0zM458.89,356.03h1.6v1.6h-1.6zM459.16,365.35h1.6v1.6h-1.6zM458.60,376.58h2.0v2.0h-2.0zM459.33,344.52h1.6v1.6h-1.6zM459.37,360.45h2.0v2.0h-2.0zM460.95,339.54h1.6v1.6h-1.6zM460.63,357.26h2.0v2.0h-2.0zM461.63,354.36h1.6v1.6h-1.6zM461.73,365.20h1.8v1.8h-1.8zM461.62,364.50h2.0v2.0h-2.0zM462.73,339.26h1.8v1.8h-1.8zM462.68,356.75h2.0v2.0h-2.0zM463.34,358.74h1.8v1.8h-1.8zM463.49,363.45h1.8v1.8h-1.8zM464.26,371.24h1.8v1.8h-1.8zM464.82,352.34h1.8v1.8h-1.8zM464.84,357.31h1.8v1.8h-1.8zM465.78,360.37h1.6v1.6h-1.6zM465.25,343.37h2.0v2.0h-2.0zM466.30,346.69h2.0v2.0h-2.0zM466.24,373.69h2.0v2.0h-2.0zM466.92,345.68h1.8v1.8h-1.8zM466.99,344.96h2.0v2.0h-2.0zM467.25,364.89h1.6v1.6h-1.6zM467.50,338.58h1.6v1.6h-1.6zM467.75,359.06h2.0v2.0h-2.0zM468.67,391.40h1.6v1.6h-1.6zM469.05,344.99h1.6v1.6h-1.6zM469.07,357.26h1.6v1.6h-1.6zM469.96,360.80h1.6v1.6h-1.6zM469.80,379.74h2.0v2.0h-2.0zM470.29,366.93h2.0v2.0h-2.0zM470.02,339.47h2.0v2.0h-2.0zM470.62,356.86h1.8v1.8h-1.8zM470.55,357.73h1.8v1.8h-1.8z" fill="#111"/>
<path d="M259.00,376.20 C265.83,375.70 285.33,374.47 300.00,373.20 C314.67,371.93 335.33,369.72 347.00,368.60 C358.67,367.48 362.23,367.25 370.00,366.50 C377.77,365.75 385.62,364.92 393.60,364.10 C401.58,363.28 409.82,362.22 417.90,361.60 C425.98,360.98 433.08,360.80 442.10,360.40 C451.12,360.00 467.02,359.40 472.00,359.20" fill="none" stroke="#20d040" stroke-width="1.5" stroke-linejoin="round" stroke-linecap="round" />
<path d="M334.48,369.85 C335.24,369.77 337.58,369.53 339.04,369.39 C340.50,369.24 341.92,369.10 343.25,368.97 C344.57,368.84 345.83,368.71 347.00,368.60 C348.17,368.49 349.25,368.39 350.27,368.29 C351.29,368.19 352.23,368.11 353.13,368.02 C354.02,367.94 354.85,367.87 355.65,367.80 C356.44,367.72 357.18,367.66 357.90,367.59 C358.62,367.53 359.29,367.47 359.96,367.41 C360.63,367.35 361.27,367.30 361.91,367.24 C362.55,367.19 363.17,367.13 363.81,367.07 C364.45,367.02 365.08,366.96 365.75,366.90 C366.41,366.84 367.07,366.78 367.78,366.71 C368.49,366.64 369.24,366.57 370.00,366.50 C370.76,366.43 371.55,366.35 372.33,366.27 C373.11,366.20 373.89,366.12 374.67,366.04 C375.45,365.96 376.23,365.88 377.01,365.81 C377.80,365.73 378.58,365.65 379.36,365.57 C380.15,365.49 380.93,365.41 381.72,365.32 C382.51,365.24 383.29,365.16 384.08,365.08 C384.87,365.00 385.66,364.92 386.45,364.84 C387.24,364.76 388.03,364.67 388.83,364.59 C389.62,364.51 390.41,364.43 391.21,364.35 C392.00,364.26 392.80,364.18 393.60,364.10 C394.40,364.02 395.20,363.93 396.00,363.85 C396.80,363.76 397.61,363.67 398.42,363.59 C399.22,363.50 400.03,363.41 400.84,363.32 C401.65,363.23 402.46,363.14 403.27,363.04 C404.09,362.95 404.90,362.86 405.71,362.77 C406.53,362.69 407.34,362.60 408.15,362.51 C408.97,362.42 409.78,362.34 410.60,362.26 C411.41,362.18 412.22,362.10 413.04,362.02 C413.85,361.94 414.66,361.87 415.47,361.80 C416.28,361.73 417.10,361.66 417.90,361.60 C418.70,361.54 419.51,361.48 420.30,361.43 C421.09,361.37 421.87,361.32 422.66,361.28 C423.44,361.23 424.21,361.19 424.99,361.14 C425.76,361.10 426.54,361.06 427.31,361.03 C428.09,360.99 428.87,360.95 429.65,360.92 C430.43,360.88 431.22,360.85 432.01,360.82 C432.81,360.78 433.61,360.75 434.42,360.72 C435.24,360.69 436.06,360.65 436.90,360.62 C437.73,360.59 438.58,360.55 439.45,360.51 C440.32,360.48 441.18,360.44 442.10,360.40 C443.02,360.36 443.98,360.32 444.99,360.27 C446.01,360.23 447.09,360.19 448.19,360.14 C449.29,360.10 450.44,360.05 451.59,360.00 C452.74,359.96 453.92,359.91 455.08,359.86 C456.25,359.82 457.42,359.77 458.56,359.72 C459.70,359.68 460.84,359.64 461.92,359.59 C463.00,359.55 464.06,359.51 465.05,359.47 C466.04,359.43 466.98,359.40 467.84,359.36 C468.70,359.33 469.50,359.30 470.20,359.27 C470.89,359.24 471.70,359.21 472.00,359.20" fill="none" stroke="#20d8d0" stroke-width="1.5" stroke-linejoin="round" stroke-linecap="round" />
<path d="M259.00,375.20 C262.50,375.08 273.70,375.00 280.00,374.50 C286.30,374.00 292.47,372.92 296.80,372.20 C301.13,371.48 302.70,370.98 306.00,370.20 C309.30,369.42 313.27,368.27 316.60,367.50 C319.93,366.73 322.68,366.10 326.00,365.60 C329.32,365.10 333.33,364.60 336.50,364.50 C339.67,364.40 341.92,364.72 345.00,365.00 C348.08,365.28 351.67,365.98 355.00,366.20 C358.33,366.42 363.33,366.28 365.00,366.30" fill="none" stroke="#10e0e0" stroke-width="1.5" stroke-linejoin="round" stroke-linecap="round" />
<path d="M259.00,375.80 C265.30,375.37 287.20,374.23 296.80,373.20 C306.40,372.17 309.98,370.72 316.60,369.60 C323.22,368.48 331.77,367.22 336.50,366.50 C341.23,365.78 341.92,365.80 345.00,365.30 C348.08,364.80 351.77,364.12 355.00,363.50 C358.23,362.88 361.73,362.35 364.40,361.60 C367.07,360.85 368.97,360.00 371.00,359.00 C373.03,358.00 374.85,357.02 376.60,355.60 C378.35,354.18 379.88,352.33 381.50,350.50 C383.12,348.67 384.97,346.35 386.30,344.60 C387.63,342.85 388.48,341.42 389.50,340.00 C390.52,338.58 391.57,337.07 392.40,336.10 C393.23,335.13 393.90,334.60 394.50,334.20 C395.10,333.80 395.48,333.63 396.00,333.70 C396.52,333.77 397.00,333.98 397.60,334.60 C398.20,335.22 398.78,336.17 399.60,337.40 C400.42,338.63 401.48,340.38 402.50,342.00 C403.52,343.62 404.45,345.47 405.70,347.10 C406.95,348.73 408.38,350.38 410.00,351.80 C411.62,353.22 413.40,354.62 415.40,355.60 C417.40,356.58 419.57,357.18 422.00,357.70 C424.43,358.22 425.33,358.48 430.00,358.70 C434.67,358.92 443.00,358.97 450.00,359.00 C457.00,359.03 468.33,358.92 472.00,358.90" fill="none" stroke="#ff10ff" stroke-width="1.5" stroke-linejoin="round" stroke-linecap="round" />
<path d="M259.00,375.40 C261.98,375.27 270.60,375.07 276.90,374.60 C283.20,374.13 290.18,373.60 296.80,372.60 C303.42,371.60 309.98,369.75 316.60,368.60 C323.22,367.45 331.77,366.83 336.50,365.70 C341.23,364.57 342.42,363.00 345.00,361.80 C347.58,360.60 349.57,359.95 352.00,358.50 C354.43,357.05 357.52,355.35 359.60,353.10 C361.68,350.85 362.88,348.23 364.50,345.00 C366.12,341.77 368.00,338.20 369.30,333.70 C370.60,329.20 371.28,324.07 372.30,318.00 C373.32,311.93 374.53,302.97 375.40,297.30 C376.27,291.63 376.82,287.55 377.50,284.00 C378.18,280.45 378.92,277.83 379.50,276.00 C380.08,274.17 380.62,273.55 381.00,273.00 C381.38,272.45 381.50,272.62 381.80,272.70 C382.10,272.78 382.35,272.70 382.80,273.50 C383.25,274.30 383.97,275.92 384.50,277.50 C385.03,279.08 385.50,280.92 386.00,283.00 C386.50,285.08 386.92,287.17 387.50,290.00 C388.08,292.83 388.90,296.77 389.50,300.00 C390.10,303.23 390.43,306.23 391.10,309.40 C391.77,312.57 392.68,315.75 393.50,319.00 C394.32,322.25 395.00,325.48 396.00,328.90 C397.00,332.32 398.28,336.27 399.50,339.50 C400.72,342.73 401.88,345.97 403.30,348.30 C404.72,350.63 406.38,352.12 408.00,353.50 C409.62,354.88 411.00,355.80 413.00,356.60 C415.00,357.40 417.17,357.87 420.00,358.30 C422.83,358.73 425.00,359.03 430.00,359.20 C435.00,359.37 443.00,359.30 450.00,359.30 C457.00,359.30 468.33,359.22 472.00,359.20" fill="none" stroke="#1818ff" stroke-width="1.6" stroke-linejoin="round" stroke-linecap="round" />
<path d="M259.00,374.60 C260.50,374.53 265.02,374.37 268.00,374.20 C270.98,374.03 273.90,374.00 276.90,373.60 C279.90,373.20 282.68,372.47 286.00,371.80 C289.32,371.13 293.47,370.43 296.80,369.60 C300.13,368.77 302.70,367.78 306.00,366.80 C309.30,365.82 313.17,364.72 316.60,363.70 C320.03,362.68 323.20,361.57 326.60,360.70 C330.00,359.83 333.60,359.17 337.00,358.50 C340.40,357.83 344.50,357.42 347.00,356.70 C349.50,355.98 350.32,355.60 352.00,354.20 C353.68,352.80 355.43,350.42 357.10,348.30 C358.77,346.18 360.37,343.93 362.00,341.50 C363.63,339.07 365.60,336.78 366.90,333.70 C368.20,330.62 368.80,327.05 369.80,323.00 C370.80,318.95 371.97,314.57 372.90,309.40 C373.83,304.23 374.63,297.23 375.40,292.00 C376.17,286.77 376.82,282.17 377.50,278.00 C378.18,273.83 378.92,269.75 379.50,267.00 C380.08,264.25 380.57,262.70 381.00,261.50 C381.43,260.30 381.73,259.88 382.10,259.80 C382.47,259.72 382.72,259.97 383.20,261.00 C383.68,262.03 384.28,264.00 385.00,266.00 C385.72,268.00 386.67,270.67 387.50,273.00 C388.33,275.33 388.98,277.17 390.00,280.00 C391.02,282.83 392.52,286.75 393.60,290.00 C394.68,293.25 395.50,296.27 396.50,299.50 C397.50,302.73 398.60,305.98 399.60,309.40 C400.60,312.82 401.48,316.35 402.50,320.00 C403.52,323.65 404.62,328.05 405.70,331.30 C406.78,334.55 407.78,337.07 409.00,339.50 C410.22,341.93 411.58,344.12 413.00,345.90 C414.42,347.68 415.88,349.00 417.50,350.20 C419.12,351.40 420.62,352.27 422.70,353.10 C424.78,353.93 426.77,354.62 430.00,355.20 C433.23,355.78 437.93,356.33 442.10,356.60 C446.27,356.87 450.02,356.77 455.00,356.80 C459.98,356.83 469.17,356.80 472.00,356.80" fill="none" stroke="#ff1414" stroke-width="1.9" stroke-linejoin="round" stroke-linecap="round" />
<text x="346.0" y="283.3" font-family="Liberation Serif" font-size="17.3" fill="#000" text-anchor="start" >N</text>
<text x="360.2" y="288.6" font-family="Liberation Serif" font-size="11.5" fill="#000" text-anchor="start" >2</text>
<line x1="362.7" y1="274.5" x2="388.0" y2="300.8" stroke="#111" stroke-width="0.8"/>
<path d="M388.00,300.80 L384.77,299.46 L386.79,297.52 Z" fill="#111"/>
<text x="417.2" y="320.4" font-family="Liberation Serif" font-size="17.3" fill="#000" text-anchor="start" >N</text>
<text x="431.8" y="325.2" font-family="Liberation Serif" font-size="11.5" fill="#000" text-anchor="start" >1</text>
<line x1="423.9" y1="317.9" x2="408.8" y2="346.8" stroke="#111" stroke-width="0.8"/>
<text x="310.9" y="344.8" font-family="Liberation Serif" font-size="17.3" fill="#000" text-anchor="start" >N</text>
<text x="325.0" y="350.8" font-family="Liberation Serif" font-size="11.5" fill="#000" text-anchor="start" >3</text>
<line x1="316.6" y1="344.8" x2="324.6" y2="357.7" stroke="#111" stroke-width="0.8"/>
<text x="423.0" y="254.2" font-family="Liberation Serif" font-size="21.2" fill="#000" text-anchor="start" >N</text>
<text x="438.8" y="258.8" font-family="Liberation Serif" font-size="14.3" fill="#000" text-anchor="start" >1s</text>
<path d="M486.30,374.60 C495.25,374.60 524.38,374.62 540.00,374.60 C555.62,374.58 568.02,374.35 580.00,374.50 C591.98,374.65 601.33,374.98 611.90,375.50 C622.47,376.02 633.72,377.18 643.40,377.60 C653.08,378.02 657.90,377.90 670.00,378.00 C682.10,378.10 708.33,378.17 716.00,378.20" fill="none" stroke="#20e020" stroke-width="1.6" stroke-linejoin="round" stroke-linecap="round" />
<path d="M486.30,373.60 C492.23,373.40 512.47,372.97 521.90,372.40 C531.33,371.83 537.72,371.02 542.90,370.20 C548.08,369.38 549.50,368.55 553.00,367.50 C556.50,366.45 561.07,364.85 563.90,363.90 C566.73,362.95 567.93,362.67 570.00,361.80 C572.07,360.93 574.63,359.37 576.30,358.70 C577.97,358.03 578.95,358.00 580.00,357.80 C581.05,357.60 581.60,357.43 582.60,357.50 C583.60,357.57 584.60,357.73 586.00,358.20 C587.40,358.67 589.33,359.57 591.00,360.30 C592.67,361.03 594.27,361.85 596.00,362.60 C597.73,363.35 599.73,364.10 601.40,364.80 C603.07,365.50 604.25,366.10 606.00,366.80 C607.75,367.50 609.57,368.23 611.90,369.00 C614.23,369.77 617.20,370.67 620.00,371.40 C622.80,372.13 625.70,372.80 628.70,373.40 C631.70,374.00 634.50,374.50 638.00,375.00 C641.50,375.50 646.03,376.07 649.70,376.40 C653.37,376.73 656.62,376.88 660.00,377.00 C663.38,377.12 665.00,377.02 670.00,377.10 C675.00,377.18 682.33,377.40 690.00,377.50 C697.67,377.60 711.67,377.67 716.00,377.70" fill="none" stroke="#1818ff" stroke-width="1.6" stroke-linejoin="round" stroke-linecap="round" />
<path d="M486.30,373.40 C488.58,373.30 496.05,373.00 500.00,372.80 C503.95,372.60 506.35,372.45 510.00,372.20 C513.65,371.95 518.23,371.70 521.90,371.30 C525.57,370.90 528.50,370.33 532.00,369.80 C535.50,369.27 539.73,368.73 542.90,368.10 C546.07,367.47 548.20,366.87 551.00,366.00 C553.80,365.13 557.20,363.87 559.70,362.90 C562.20,361.93 563.92,361.07 566.00,360.20 C568.08,359.33 570.53,358.38 572.20,357.70 C573.87,357.02 574.70,356.57 576.00,356.10 C577.30,355.63 578.42,355.18 580.00,354.90 C581.58,354.62 583.67,354.45 585.50,354.40 C587.33,354.35 589.25,354.47 591.00,354.60 C592.75,354.73 594.27,355.03 596.00,355.20 C597.73,355.37 599.73,355.60 601.40,355.60 C603.07,355.60 604.60,355.45 606.00,355.20 C607.40,354.95 608.70,354.77 609.80,354.10 C610.90,353.43 611.72,352.53 612.60,351.20 C613.48,349.87 614.32,348.17 615.10,346.10 C615.88,344.03 616.60,341.58 617.30,338.80 C618.00,336.02 618.68,332.53 619.30,329.40 C619.92,326.27 620.48,322.80 621.00,320.00 C621.52,317.20 621.87,315.93 622.40,312.60 C622.93,309.27 623.60,304.43 624.20,300.00 C624.80,295.57 625.37,291.00 626.00,286.00 C626.63,281.00 627.33,275.00 628.00,270.00 C628.67,265.00 629.40,260.00 630.00,256.00 C630.60,252.00 631.10,248.45 631.60,246.00 C632.10,243.55 632.53,241.38 633.00,241.30 C633.47,241.22 633.87,243.05 634.40,245.50 C634.93,247.95 635.55,251.92 636.20,256.00 C636.85,260.08 637.62,265.17 638.30,270.00 C638.98,274.83 639.63,280.00 640.30,285.00 C640.97,290.00 641.70,295.67 642.30,300.00 C642.90,304.33 643.37,307.50 643.90,311.00 C644.43,314.50 644.88,317.08 645.50,321.00 C646.12,324.92 646.90,330.32 647.60,334.50 C648.30,338.68 649.00,343.02 649.70,346.10 C650.40,349.18 651.10,350.90 651.80,353.00 C652.50,355.10 653.07,356.97 653.90,358.70 C654.73,360.43 655.77,362.00 656.80,363.40 C657.83,364.80 658.90,366.10 660.10,367.10 C661.30,368.10 662.35,368.70 664.00,369.40 C665.65,370.10 667.33,370.73 670.00,371.30 C672.67,371.87 675.83,372.40 680.00,372.80 C684.17,373.20 689.00,373.47 695.00,373.70 C701.00,373.93 712.50,374.12 716.00,374.20" fill="none" stroke="#ff1414" stroke-width="2.3" stroke-linejoin="round" stroke-linecap="round" />
<path d="M486.30,374.20 C493.58,374.10 518.12,373.92 530.00,373.60 C541.88,373.28 550.93,372.70 557.60,372.30 C564.27,371.90 566.27,371.48 570.00,371.20 C573.73,370.92 576.50,370.83 580.00,370.60 C583.50,370.37 588.17,370.23 591.00,369.80 C593.83,369.37 594.92,368.80 597.00,368.00 C599.08,367.20 601.67,366.08 603.50,365.00 C605.33,363.92 606.60,362.90 608.00,361.50 C609.40,360.10 610.77,358.68 611.90,356.60 C613.03,354.52 613.92,351.80 614.80,349.00 C615.68,346.20 616.43,343.30 617.20,339.80 C617.97,336.30 618.70,331.83 619.40,328.00 C620.10,324.17 620.80,320.47 621.40,316.80 C622.00,313.13 622.47,309.47 623.00,306.00 C623.53,302.53 624.02,300.00 624.60,296.00 C625.18,292.00 625.85,287.00 626.50,282.00 C627.15,277.00 627.87,270.67 628.50,266.00 C629.13,261.33 629.75,257.25 630.30,254.00 C630.85,250.75 631.35,248.28 631.80,246.50 C632.25,244.72 632.58,243.30 633.00,243.30 C633.42,243.30 633.82,244.72 634.30,246.50 C634.78,248.28 635.32,250.75 635.90,254.00 C636.48,257.25 637.15,261.50 637.80,266.00 C638.45,270.50 639.17,276.33 639.80,281.00 C640.43,285.67 641.00,290.00 641.60,294.00 C642.20,298.00 642.78,301.00 643.40,305.00 C644.02,309.00 644.62,313.67 645.30,318.00 C645.98,322.33 647.13,328.83 647.50,331.00" fill="none" stroke="#a0a020" stroke-width="1.3" stroke-linejoin="round" stroke-linecap="round" />
<path d="M650.70,346.10 C651.13,347.42 652.42,351.90 653.30,354.00 C654.18,356.10 654.88,357.20 656.00,358.70 C657.12,360.20 658.62,361.78 660.00,363.00 C661.38,364.22 662.63,365.03 664.30,366.00 C665.97,366.97 667.38,367.93 670.00,368.80 C672.62,369.67 675.83,370.57 680.00,371.20 C684.17,371.83 689.00,372.22 695.00,372.60 C701.00,372.98 712.50,373.35 716.00,373.50" fill="none" stroke="#a0a020" stroke-width="1.3" stroke-linejoin="round" stroke-linecap="round" />
<path d="M612.45,353.80 C612.98,352.63 614.72,349.22 615.63,346.80 C616.54,344.38 617.18,342.10 617.90,339.30 C618.63,336.50 619.34,333.05 619.98,330.00 C620.62,326.95 621.20,323.75 621.73,321.00 C622.25,318.25 622.60,316.75 623.14,313.50 C623.67,310.25 624.35,305.75 624.94,301.50 C625.54,297.25 626.10,292.58 626.71,288.00 C627.32,283.42 627.99,278.50 628.61,274.00 C629.23,269.50 629.86,264.67 630.43,261.00 C631.00,257.33 631.53,253.88 632.02,252.00 C632.51,250.12 632.94,249.62 633.40,249.70 C633.86,249.78 634.29,250.45 634.78,252.50 C635.28,254.55 635.82,258.25 636.37,262.00 C636.93,265.75 637.54,270.67 638.11,275.00 C638.68,279.33 639.24,283.67 639.82,288.00 C640.39,292.33 641.00,296.83 641.57,301.00 C642.15,305.17 642.69,309.00 643.28,313.00 C643.88,317.00 644.44,320.83 645.13,325.00 C645.82,329.17 646.61,333.83 647.43,338.00 C648.25,342.17 649.03,345.92 650.07,350.00 C651.11,354.08 652.45,359.33 653.68,362.50 C654.90,365.67 656.00,367.18 657.42,369.00 C658.84,370.82 660.60,372.30 662.20,373.40 C663.80,374.50 665.70,375.08 667.00,375.60 C668.30,376.12 667.83,376.22 670.00,376.50 C672.17,376.78 675.00,377.12 680.00,377.30 C685.00,377.48 694.00,377.55 700.00,377.60 C706.00,377.65 713.33,377.60 716.00,377.60" fill="none" stroke="#000" stroke-width="1.1" stroke-linejoin="round" stroke-linecap="round" />
<path d="M486.30,373.14 L487.20,373.36 L488.10,372.99 L489.00,373.61 L489.90,372.98 L490.80,373.26 L491.70,373.60 L492.60,373.03 L493.50,373.56 L494.40,373.29 L495.30,373.07 L496.20,373.11 L497.10,373.02 L498.00,372.76 L498.90,373.35 L499.80,372.71 L500.70,373.25 L501.60,373.07 L502.50,372.20 L503.40,372.38 L504.30,372.54 L505.20,372.83 L506.10,372.14 L507.00,372.52 L507.90,372.21 L508.80,372.57 L509.70,372.65 L510.60,372.42 L511.50,371.79 L512.40,372.30 L513.30,371.92 L514.20,372.26 L515.10,371.83 L516.00,372.21 L516.90,372.22 L517.80,371.99 L518.70,371.92 L519.60,371.84 L520.50,371.53 L521.40,371.03 L522.30,371.74 L523.20,371.11 L524.10,370.55 L525.00,370.84 L525.90,370.69 L526.80,370.33 L527.70,370.95 L528.60,369.96 L529.50,370.60 L530.40,370.10 L531.30,369.59 L532.20,369.63 L533.10,369.59 L534.00,369.12 L534.90,369.64 L535.80,369.40 L536.70,369.60 L537.60,369.31 L538.50,369.13 L539.40,369.21 L540.30,369.00 L541.20,368.56 L542.10,368.29 L543.00,368.10 L543.90,368.21 L544.80,368.12 L545.70,367.82 L546.60,367.60 L547.50,366.55 L548.40,366.70 L549.30,366.10 L550.20,366.33 L551.10,366.05 L552.00,365.74 L552.90,365.74 L553.80,364.80 L554.70,364.99 L555.60,364.52 L556.50,363.82 L557.40,364.25 L558.30,362.99 L559.20,363.06 L560.10,362.78 L561.00,362.47 L561.90,362.48 L562.80,361.66 L563.70,361.59 L564.60,360.60 L565.50,360.39 L566.40,359.68 L567.30,359.81 L568.20,359.23 L569.10,359.23 L570.00,358.20 L570.90,358.19 L571.80,358.32 L572.70,357.00 L573.60,357.26 L574.50,356.88 L575.40,356.55 L576.30,356.05 L577.20,355.67 L578.10,355.83 L579.00,354.90 L579.90,355.12 L580.80,354.94 L581.70,354.89 L582.60,354.55 L583.50,354.01 L584.40,354.72 L585.30,354.19 L586.20,354.67 L587.10,354.88 L588.00,354.70 L588.90,354.36 L589.80,354.87 L590.70,354.46 L591.60,354.47 L592.50,354.83 L593.40,355.03 L594.30,355.18 L595.20,355.16 L596.10,355.12 L597.00,355.54 L597.90,355.21 L598.80,355.57 L599.70,355.04 L600.60,355.21 L601.50,355.97 L602.40,355.30 L603.30,355.45 L604.20,355.01 L605.10,355.61 L606.00,355.03 L606.90,354.55 L607.80,354.52 L608.70,354.89 L609.60,354.42" fill="none" stroke="#111" stroke-width="0.9" stroke-linejoin="round" stroke-linecap="round" stroke-dasharray="1 2"/>
<text x="584.5" y="267.4" font-family="Liberation Serif" font-size="19.0" fill="#000" text-anchor="start" >O</text>
<text x="600.6" y="273.1" font-family="Liberation Serif" font-size="12.5" fill="#000" text-anchor="start" >1</text>
<line x1="607.4" y1="270.9" x2="624.0" y2="287.2" stroke="#111" stroke-width="0.8"/>
<path d="M624.00,287.20 L620.74,285.96 L622.70,283.96 Z" fill="#111"/>
<text x="556.8" y="343.0" font-family="Liberation Serif" font-size="19.0" fill="#000" text-anchor="start" >O</text>
<text x="572.0" y="345.1" font-family="Liberation Serif" font-size="12.5" fill="#000" text-anchor="start" >2</text>
<line x1="569.1" y1="348.2" x2="578.5" y2="355.6" stroke="#111" stroke-width="0.8"/>
<text x="680.1" y="254.1" font-family="Liberation Serif" font-size="21.2" fill="#000" text-anchor="start" >O</text>
<text x="695.6" y="258.6" font-family="Liberation Serif" font-size="14.3" fill="#000" text-anchor="start" >1s</text></svg></body></html>
